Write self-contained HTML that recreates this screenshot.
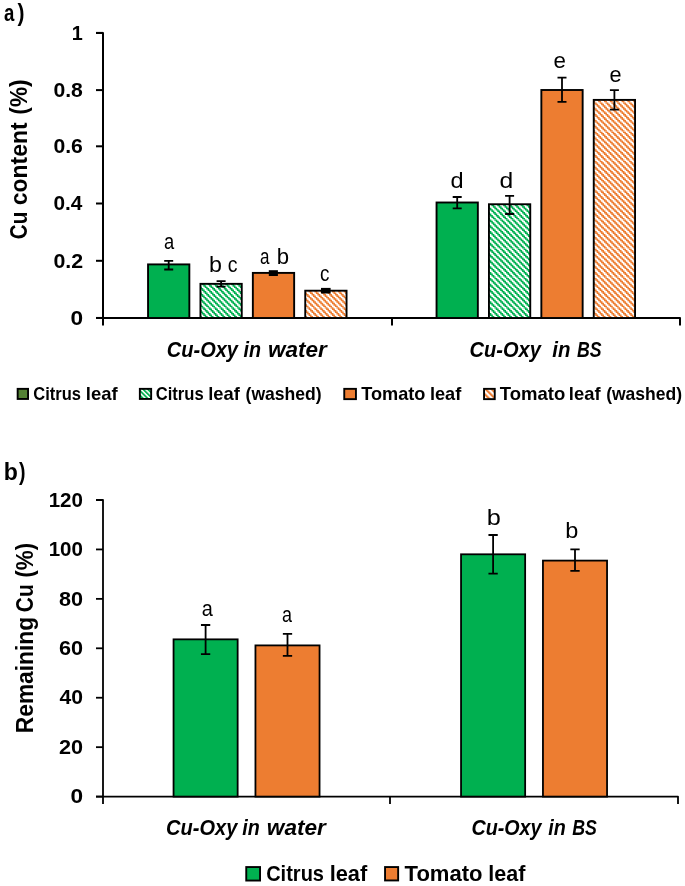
<!DOCTYPE html>
<html><head><meta charset="utf-8"><style>
html,body{margin:0;padding:0;background:#fff;}
svg{display:block;will-change:transform;}
text{font-family:"Liberation Sans", sans-serif;fill:#000;}
</style></head><body>
<svg width="685" height="886" viewBox="0 0 685 886">
<rect width="685" height="886" fill="#fff"/>
<defs>
<pattern id="hgl" patternUnits="userSpaceOnUse" width="3.3" height="3.3" patternTransform="rotate(-45)">
<rect width="3.3" height="3.3" fill="#fff"/><rect width="1.8" height="3.3" fill="#00B050"/></pattern>
<pattern id="hol" patternUnits="userSpaceOnUse" width="4.2" height="4.2" patternTransform="rotate(-45)">
<rect width="4.2" height="4.2" fill="#fff"/><rect width="2.1" height="4.2" fill="#ED7D31"/></pattern>
</defs>
<path d="M96 32.9H103V325.5" fill="none" stroke="#000" stroke-width="2" stroke-linejoin="round"/>
<line x1="96" y1="32.9" x2="103" y2="32.9" stroke="#000" stroke-width="2"/>
<line x1="96" y1="90.1" x2="103" y2="90.1" stroke="#000" stroke-width="2"/>
<line x1="96" y1="146.3" x2="103" y2="146.3" stroke="#000" stroke-width="2"/>
<line x1="96" y1="203.5" x2="103" y2="203.5" stroke="#000" stroke-width="2"/>
<line x1="96" y1="260.8" x2="103" y2="260.8" stroke="#000" stroke-width="2"/>
<line x1="96" y1="317.95" x2="103" y2="317.95" stroke="#000" stroke-width="2"/>
<path d="M96 318H680V325.5" fill="none" stroke="#000" stroke-width="2" stroke-linejoin="round"/>
<line x1="392" y1="318" x2="392" y2="325.5" stroke="#000" stroke-width="2"/>
<text x="71.82" y="39.6" font-size="21" font-weight="bold" font-style="normal" textLength="11.02" lengthAdjust="spacingAndGlyphs" xml:space="preserve">1</text>
<text x="53.44" y="96.8" font-size="21" font-weight="bold" font-style="normal" textLength="29.46" lengthAdjust="spacingAndGlyphs" xml:space="preserve">0.8</text>
<text x="53.44" y="153.0" font-size="21" font-weight="bold" font-style="normal" textLength="29.46" lengthAdjust="spacingAndGlyphs" xml:space="preserve">0.6</text>
<text x="53.46" y="210.2" font-size="21" font-weight="bold" font-style="normal" textLength="28.94" lengthAdjust="spacingAndGlyphs" xml:space="preserve">0.4</text>
<text x="53.44" y="267.5" font-size="21" font-weight="bold" font-style="normal" textLength="29.73" lengthAdjust="spacingAndGlyphs" xml:space="preserve">0.2</text>
<text x="70.59" y="324.65" font-size="21" font-weight="bold" font-style="normal" textLength="12.61" lengthAdjust="spacingAndGlyphs" xml:space="preserve">0</text>
<rect x="148.05" y="264.40" width="41.30" height="53.60" fill="#00B050" stroke="#000" stroke-width="1.9"/>
<clipPath id="hc1"><rect x="200.45" y="283.85" width="41.30" height="34.15"/></clipPath>
<rect x="200.45" y="283.85" width="41.30" height="34.15" fill="#fff"/>
<path clip-path="url(#hc1)" fill="#00B050" d="M194.512 282.262h2.925v1.462h-2.925zM200.362 282.262h2.925v1.462h-2.925zM206.212 282.262h2.925v1.462h-2.925zM212.062 282.262h2.925v1.462h-2.925zM217.912 282.262h2.925v1.462h-2.925zM223.762 282.262h2.925v1.462h-2.925zM229.612 282.262h2.925v1.462h-2.925zM235.462 282.262h2.925v1.462h-2.925zM241.312 282.262h2.925v1.462h-2.925zM247.162 282.262h2.925v1.462h-2.925zM195.975 283.725h2.925v1.462h-2.925zM201.825 283.725h2.925v1.462h-2.925zM207.675 283.725h2.925v1.462h-2.925zM213.525 283.725h2.925v1.462h-2.925zM219.375 283.725h2.925v1.462h-2.925zM225.225 283.725h2.925v1.462h-2.925zM231.075 283.725h2.925v1.462h-2.925zM236.925 283.725h2.925v1.462h-2.925zM242.775 283.725h2.925v1.462h-2.925zM197.438 285.188h2.925v1.462h-2.925zM203.287 285.188h2.925v1.462h-2.925zM209.137 285.188h2.925v1.462h-2.925zM214.987 285.188h2.925v1.462h-2.925zM220.837 285.188h2.925v1.462h-2.925zM226.688 285.188h2.925v1.462h-2.925zM232.537 285.188h2.925v1.462h-2.925zM238.387 285.188h2.925v1.462h-2.925zM244.237 285.188h2.925v1.462h-2.925zM198.900 286.650h2.925v1.462h-2.925zM204.750 286.650h2.925v1.462h-2.925zM210.600 286.650h2.925v1.462h-2.925zM216.450 286.650h2.925v1.462h-2.925zM222.300 286.650h2.925v1.462h-2.925zM228.150 286.650h2.925v1.462h-2.925zM234.000 286.650h2.925v1.462h-2.925zM239.850 286.650h2.925v1.462h-2.925zM245.700 286.650h2.925v1.462h-2.925zM194.512 288.112h2.925v1.462h-2.925zM200.362 288.112h2.925v1.462h-2.925zM206.212 288.112h2.925v1.462h-2.925zM212.062 288.112h2.925v1.462h-2.925zM217.912 288.112h2.925v1.462h-2.925zM223.762 288.112h2.925v1.462h-2.925zM229.612 288.112h2.925v1.462h-2.925zM235.462 288.112h2.925v1.462h-2.925zM241.312 288.112h2.925v1.462h-2.925zM247.162 288.112h2.925v1.462h-2.925zM195.975 289.575h2.925v1.462h-2.925zM201.825 289.575h2.925v1.462h-2.925zM207.675 289.575h2.925v1.462h-2.925zM213.525 289.575h2.925v1.462h-2.925zM219.375 289.575h2.925v1.462h-2.925zM225.225 289.575h2.925v1.462h-2.925zM231.075 289.575h2.925v1.462h-2.925zM236.925 289.575h2.925v1.462h-2.925zM242.775 289.575h2.925v1.462h-2.925zM197.438 291.037h2.925v1.462h-2.925zM203.287 291.037h2.925v1.462h-2.925zM209.137 291.037h2.925v1.462h-2.925zM214.987 291.037h2.925v1.462h-2.925zM220.837 291.037h2.925v1.462h-2.925zM226.688 291.037h2.925v1.462h-2.925zM232.537 291.037h2.925v1.462h-2.925zM238.387 291.037h2.925v1.462h-2.925zM244.237 291.037h2.925v1.462h-2.925zM198.900 292.500h2.925v1.462h-2.925zM204.750 292.500h2.925v1.462h-2.925zM210.600 292.500h2.925v1.462h-2.925zM216.450 292.500h2.925v1.462h-2.925zM222.300 292.500h2.925v1.462h-2.925zM228.150 292.500h2.925v1.462h-2.925zM234.000 292.500h2.925v1.462h-2.925zM239.850 292.500h2.925v1.462h-2.925zM245.700 292.500h2.925v1.462h-2.925zM194.512 293.962h2.925v1.462h-2.925zM200.362 293.962h2.925v1.462h-2.925zM206.212 293.962h2.925v1.462h-2.925zM212.062 293.962h2.925v1.462h-2.925zM217.912 293.962h2.925v1.462h-2.925zM223.762 293.962h2.925v1.462h-2.925zM229.612 293.962h2.925v1.462h-2.925zM235.462 293.962h2.925v1.462h-2.925zM241.312 293.962h2.925v1.462h-2.925zM247.162 293.962h2.925v1.462h-2.925zM195.975 295.425h2.925v1.462h-2.925zM201.825 295.425h2.925v1.462h-2.925zM207.675 295.425h2.925v1.462h-2.925zM213.525 295.425h2.925v1.462h-2.925zM219.375 295.425h2.925v1.462h-2.925zM225.225 295.425h2.925v1.462h-2.925zM231.075 295.425h2.925v1.462h-2.925zM236.925 295.425h2.925v1.462h-2.925zM242.775 295.425h2.925v1.462h-2.925zM197.438 296.887h2.925v1.462h-2.925zM203.287 296.887h2.925v1.462h-2.925zM209.137 296.887h2.925v1.462h-2.925zM214.987 296.887h2.925v1.462h-2.925zM220.837 296.887h2.925v1.462h-2.925zM226.688 296.887h2.925v1.462h-2.925zM232.537 296.887h2.925v1.462h-2.925zM238.387 296.887h2.925v1.462h-2.925zM244.237 296.887h2.925v1.462h-2.925zM198.900 298.350h2.925v1.462h-2.925zM204.750 298.350h2.925v1.462h-2.925zM210.600 298.350h2.925v1.462h-2.925zM216.450 298.350h2.925v1.462h-2.925zM222.300 298.350h2.925v1.462h-2.925zM228.150 298.350h2.925v1.462h-2.925zM234.000 298.350h2.925v1.462h-2.925zM239.850 298.350h2.925v1.462h-2.925zM245.700 298.350h2.925v1.462h-2.925zM194.512 299.812h2.925v1.462h-2.925zM200.362 299.812h2.925v1.462h-2.925zM206.212 299.812h2.925v1.462h-2.925zM212.062 299.812h2.925v1.462h-2.925zM217.912 299.812h2.925v1.462h-2.925zM223.762 299.812h2.925v1.462h-2.925zM229.612 299.812h2.925v1.462h-2.925zM235.462 299.812h2.925v1.462h-2.925zM241.312 299.812h2.925v1.462h-2.925zM247.162 299.812h2.925v1.462h-2.925zM195.975 301.275h2.925v1.462h-2.925zM201.825 301.275h2.925v1.462h-2.925zM207.675 301.275h2.925v1.462h-2.925zM213.525 301.275h2.925v1.462h-2.925zM219.375 301.275h2.925v1.462h-2.925zM225.225 301.275h2.925v1.462h-2.925zM231.075 301.275h2.925v1.462h-2.925zM236.925 301.275h2.925v1.462h-2.925zM242.775 301.275h2.925v1.462h-2.925zM197.438 302.737h2.925v1.462h-2.925zM203.287 302.737h2.925v1.462h-2.925zM209.137 302.737h2.925v1.462h-2.925zM214.987 302.737h2.925v1.462h-2.925zM220.837 302.737h2.925v1.462h-2.925zM226.688 302.737h2.925v1.462h-2.925zM232.537 302.737h2.925v1.462h-2.925zM238.387 302.737h2.925v1.462h-2.925zM244.237 302.737h2.925v1.462h-2.925zM198.900 304.200h2.925v1.462h-2.925zM204.750 304.200h2.925v1.462h-2.925zM210.600 304.200h2.925v1.462h-2.925zM216.450 304.200h2.925v1.462h-2.925zM222.300 304.200h2.925v1.462h-2.925zM228.150 304.200h2.925v1.462h-2.925zM234.000 304.200h2.925v1.462h-2.925zM239.850 304.200h2.925v1.462h-2.925zM245.700 304.200h2.925v1.462h-2.925zM194.512 305.662h2.925v1.462h-2.925zM200.362 305.662h2.925v1.462h-2.925zM206.212 305.662h2.925v1.462h-2.925zM212.062 305.662h2.925v1.462h-2.925zM217.912 305.662h2.925v1.462h-2.925zM223.762 305.662h2.925v1.462h-2.925zM229.612 305.662h2.925v1.462h-2.925zM235.462 305.662h2.925v1.462h-2.925zM241.312 305.662h2.925v1.462h-2.925zM247.162 305.662h2.925v1.462h-2.925zM195.975 307.125h2.925v1.462h-2.925zM201.825 307.125h2.925v1.462h-2.925zM207.675 307.125h2.925v1.462h-2.925zM213.525 307.125h2.925v1.462h-2.925zM219.375 307.125h2.925v1.462h-2.925zM225.225 307.125h2.925v1.462h-2.925zM231.075 307.125h2.925v1.462h-2.925zM236.925 307.125h2.925v1.462h-2.925zM242.775 307.125h2.925v1.462h-2.925zM197.438 308.587h2.925v1.462h-2.925zM203.287 308.587h2.925v1.462h-2.925zM209.137 308.587h2.925v1.462h-2.925zM214.987 308.587h2.925v1.462h-2.925zM220.837 308.587h2.925v1.462h-2.925zM226.688 308.587h2.925v1.462h-2.925zM232.537 308.587h2.925v1.462h-2.925zM238.387 308.587h2.925v1.462h-2.925zM244.237 308.587h2.925v1.462h-2.925zM198.900 310.050h2.925v1.462h-2.925zM204.750 310.050h2.925v1.462h-2.925zM210.600 310.050h2.925v1.462h-2.925zM216.450 310.050h2.925v1.462h-2.925zM222.300 310.050h2.925v1.462h-2.925zM228.150 310.050h2.925v1.462h-2.925zM234.000 310.050h2.925v1.462h-2.925zM239.850 310.050h2.925v1.462h-2.925zM245.700 310.050h2.925v1.462h-2.925zM194.512 311.512h2.925v1.462h-2.925zM200.362 311.512h2.925v1.462h-2.925zM206.212 311.512h2.925v1.462h-2.925zM212.062 311.512h2.925v1.462h-2.925zM217.912 311.512h2.925v1.462h-2.925zM223.762 311.512h2.925v1.462h-2.925zM229.612 311.512h2.925v1.462h-2.925zM235.462 311.512h2.925v1.462h-2.925zM241.312 311.512h2.925v1.462h-2.925zM247.162 311.512h2.925v1.462h-2.925zM195.975 312.975h2.925v1.462h-2.925zM201.825 312.975h2.925v1.462h-2.925zM207.675 312.975h2.925v1.462h-2.925zM213.525 312.975h2.925v1.462h-2.925zM219.375 312.975h2.925v1.462h-2.925zM225.225 312.975h2.925v1.462h-2.925zM231.075 312.975h2.925v1.462h-2.925zM236.925 312.975h2.925v1.462h-2.925zM242.775 312.975h2.925v1.462h-2.925zM197.438 314.438h2.925v1.462h-2.925zM203.287 314.438h2.925v1.462h-2.925zM209.137 314.438h2.925v1.462h-2.925zM214.987 314.438h2.925v1.462h-2.925zM220.837 314.438h2.925v1.462h-2.925zM226.688 314.438h2.925v1.462h-2.925zM232.537 314.438h2.925v1.462h-2.925zM238.387 314.438h2.925v1.462h-2.925zM244.237 314.438h2.925v1.462h-2.925zM198.900 315.900h2.925v1.462h-2.925zM204.750 315.900h2.925v1.462h-2.925zM210.600 315.900h2.925v1.462h-2.925zM216.450 315.900h2.925v1.462h-2.925zM222.300 315.900h2.925v1.462h-2.925zM228.150 315.900h2.925v1.462h-2.925zM234.000 315.900h2.925v1.462h-2.925zM239.850 315.900h2.925v1.462h-2.925zM245.700 315.900h2.925v1.462h-2.925zM194.512 317.362h2.925v1.462h-2.925zM200.362 317.362h2.925v1.462h-2.925zM206.212 317.362h2.925v1.462h-2.925zM212.062 317.362h2.925v1.462h-2.925zM217.912 317.362h2.925v1.462h-2.925zM223.762 317.362h2.925v1.462h-2.925zM229.612 317.362h2.925v1.462h-2.925zM235.462 317.362h2.925v1.462h-2.925zM241.312 317.362h2.925v1.462h-2.925zM247.162 317.362h2.925v1.462h-2.925zM195.975 318.825h2.925v1.462h-2.925zM201.825 318.825h2.925v1.462h-2.925zM207.675 318.825h2.925v1.462h-2.925zM213.525 318.825h2.925v1.462h-2.925zM219.375 318.825h2.925v1.462h-2.925zM225.225 318.825h2.925v1.462h-2.925zM231.075 318.825h2.925v1.462h-2.925zM236.925 318.825h2.925v1.462h-2.925zM242.775 318.825h2.925v1.462h-2.925z"/>
<rect x="200.45" y="283.85" width="41.30" height="34.15" fill="none" stroke="#000" stroke-width="1.9"/>
<rect x="252.85" y="272.90" width="41.30" height="45.10" fill="#ED7D31" stroke="#000" stroke-width="1.9"/>
<clipPath id="hc2"><rect x="305.25" y="290.70" width="41.30" height="27.30"/></clipPath>
<rect x="305.25" y="290.70" width="41.30" height="27.30" fill="#fff"/>
<path clip-path="url(#hc2)" fill="#ED7D31" d="M299.812 288.112h2.925v1.462h-2.925zM305.662 288.112h2.925v1.462h-2.925zM311.512 288.112h2.925v1.462h-2.925zM317.362 288.112h2.925v1.462h-2.925zM323.212 288.112h2.925v1.462h-2.925zM329.062 288.112h2.925v1.462h-2.925zM334.912 288.112h2.925v1.462h-2.925zM340.762 288.112h2.925v1.462h-2.925zM346.612 288.112h2.925v1.462h-2.925zM301.275 289.575h2.925v1.462h-2.925zM307.125 289.575h2.925v1.462h-2.925zM312.975 289.575h2.925v1.462h-2.925zM318.825 289.575h2.925v1.462h-2.925zM324.675 289.575h2.925v1.462h-2.925zM330.525 289.575h2.925v1.462h-2.925zM336.375 289.575h2.925v1.462h-2.925zM342.225 289.575h2.925v1.462h-2.925zM348.075 289.575h2.925v1.462h-2.925zM302.737 291.037h2.925v1.462h-2.925zM308.587 291.037h2.925v1.462h-2.925zM314.438 291.037h2.925v1.462h-2.925zM320.287 291.037h2.925v1.462h-2.925zM326.137 291.037h2.925v1.462h-2.925zM331.987 291.037h2.925v1.462h-2.925zM337.837 291.037h2.925v1.462h-2.925zM343.688 291.037h2.925v1.462h-2.925zM349.537 291.037h2.925v1.462h-2.925zM298.350 292.500h2.925v1.462h-2.925zM304.200 292.500h2.925v1.462h-2.925zM310.050 292.500h2.925v1.462h-2.925zM315.900 292.500h2.925v1.462h-2.925zM321.750 292.500h2.925v1.462h-2.925zM327.600 292.500h2.925v1.462h-2.925zM333.450 292.500h2.925v1.462h-2.925zM339.300 292.500h2.925v1.462h-2.925zM345.150 292.500h2.925v1.462h-2.925zM351.000 292.500h2.925v1.462h-2.925zM299.812 293.962h2.925v1.462h-2.925zM305.662 293.962h2.925v1.462h-2.925zM311.512 293.962h2.925v1.462h-2.925zM317.362 293.962h2.925v1.462h-2.925zM323.212 293.962h2.925v1.462h-2.925zM329.062 293.962h2.925v1.462h-2.925zM334.912 293.962h2.925v1.462h-2.925zM340.762 293.962h2.925v1.462h-2.925zM346.612 293.962h2.925v1.462h-2.925zM301.275 295.425h2.925v1.462h-2.925zM307.125 295.425h2.925v1.462h-2.925zM312.975 295.425h2.925v1.462h-2.925zM318.825 295.425h2.925v1.462h-2.925zM324.675 295.425h2.925v1.462h-2.925zM330.525 295.425h2.925v1.462h-2.925zM336.375 295.425h2.925v1.462h-2.925zM342.225 295.425h2.925v1.462h-2.925zM348.075 295.425h2.925v1.462h-2.925zM302.737 296.887h2.925v1.462h-2.925zM308.587 296.887h2.925v1.462h-2.925zM314.438 296.887h2.925v1.462h-2.925zM320.287 296.887h2.925v1.462h-2.925zM326.137 296.887h2.925v1.462h-2.925zM331.987 296.887h2.925v1.462h-2.925zM337.837 296.887h2.925v1.462h-2.925zM343.688 296.887h2.925v1.462h-2.925zM349.537 296.887h2.925v1.462h-2.925zM298.350 298.350h2.925v1.462h-2.925zM304.200 298.350h2.925v1.462h-2.925zM310.050 298.350h2.925v1.462h-2.925zM315.900 298.350h2.925v1.462h-2.925zM321.750 298.350h2.925v1.462h-2.925zM327.600 298.350h2.925v1.462h-2.925zM333.450 298.350h2.925v1.462h-2.925zM339.300 298.350h2.925v1.462h-2.925zM345.150 298.350h2.925v1.462h-2.925zM351.000 298.350h2.925v1.462h-2.925zM299.812 299.812h2.925v1.462h-2.925zM305.662 299.812h2.925v1.462h-2.925zM311.512 299.812h2.925v1.462h-2.925zM317.362 299.812h2.925v1.462h-2.925zM323.212 299.812h2.925v1.462h-2.925zM329.062 299.812h2.925v1.462h-2.925zM334.912 299.812h2.925v1.462h-2.925zM340.762 299.812h2.925v1.462h-2.925zM346.612 299.812h2.925v1.462h-2.925zM301.275 301.275h2.925v1.462h-2.925zM307.125 301.275h2.925v1.462h-2.925zM312.975 301.275h2.925v1.462h-2.925zM318.825 301.275h2.925v1.462h-2.925zM324.675 301.275h2.925v1.462h-2.925zM330.525 301.275h2.925v1.462h-2.925zM336.375 301.275h2.925v1.462h-2.925zM342.225 301.275h2.925v1.462h-2.925zM348.075 301.275h2.925v1.462h-2.925zM302.737 302.737h2.925v1.462h-2.925zM308.587 302.737h2.925v1.462h-2.925zM314.438 302.737h2.925v1.462h-2.925zM320.287 302.737h2.925v1.462h-2.925zM326.137 302.737h2.925v1.462h-2.925zM331.987 302.737h2.925v1.462h-2.925zM337.837 302.737h2.925v1.462h-2.925zM343.688 302.737h2.925v1.462h-2.925zM349.537 302.737h2.925v1.462h-2.925zM298.350 304.200h2.925v1.462h-2.925zM304.200 304.200h2.925v1.462h-2.925zM310.050 304.200h2.925v1.462h-2.925zM315.900 304.200h2.925v1.462h-2.925zM321.750 304.200h2.925v1.462h-2.925zM327.600 304.200h2.925v1.462h-2.925zM333.450 304.200h2.925v1.462h-2.925zM339.300 304.200h2.925v1.462h-2.925zM345.150 304.200h2.925v1.462h-2.925zM351.000 304.200h2.925v1.462h-2.925zM299.812 305.662h2.925v1.462h-2.925zM305.662 305.662h2.925v1.462h-2.925zM311.512 305.662h2.925v1.462h-2.925zM317.362 305.662h2.925v1.462h-2.925zM323.212 305.662h2.925v1.462h-2.925zM329.062 305.662h2.925v1.462h-2.925zM334.912 305.662h2.925v1.462h-2.925zM340.762 305.662h2.925v1.462h-2.925zM346.612 305.662h2.925v1.462h-2.925zM301.275 307.125h2.925v1.462h-2.925zM307.125 307.125h2.925v1.462h-2.925zM312.975 307.125h2.925v1.462h-2.925zM318.825 307.125h2.925v1.462h-2.925zM324.675 307.125h2.925v1.462h-2.925zM330.525 307.125h2.925v1.462h-2.925zM336.375 307.125h2.925v1.462h-2.925zM342.225 307.125h2.925v1.462h-2.925zM348.075 307.125h2.925v1.462h-2.925zM302.737 308.587h2.925v1.462h-2.925zM308.587 308.587h2.925v1.462h-2.925zM314.438 308.587h2.925v1.462h-2.925zM320.287 308.587h2.925v1.462h-2.925zM326.137 308.587h2.925v1.462h-2.925zM331.987 308.587h2.925v1.462h-2.925zM337.837 308.587h2.925v1.462h-2.925zM343.688 308.587h2.925v1.462h-2.925zM349.537 308.587h2.925v1.462h-2.925zM298.350 310.050h2.925v1.462h-2.925zM304.200 310.050h2.925v1.462h-2.925zM310.050 310.050h2.925v1.462h-2.925zM315.900 310.050h2.925v1.462h-2.925zM321.750 310.050h2.925v1.462h-2.925zM327.600 310.050h2.925v1.462h-2.925zM333.450 310.050h2.925v1.462h-2.925zM339.300 310.050h2.925v1.462h-2.925zM345.150 310.050h2.925v1.462h-2.925zM351.000 310.050h2.925v1.462h-2.925zM299.812 311.512h2.925v1.462h-2.925zM305.662 311.512h2.925v1.462h-2.925zM311.512 311.512h2.925v1.462h-2.925zM317.362 311.512h2.925v1.462h-2.925zM323.212 311.512h2.925v1.462h-2.925zM329.062 311.512h2.925v1.462h-2.925zM334.912 311.512h2.925v1.462h-2.925zM340.762 311.512h2.925v1.462h-2.925zM346.612 311.512h2.925v1.462h-2.925zM301.275 312.975h2.925v1.462h-2.925zM307.125 312.975h2.925v1.462h-2.925zM312.975 312.975h2.925v1.462h-2.925zM318.825 312.975h2.925v1.462h-2.925zM324.675 312.975h2.925v1.462h-2.925zM330.525 312.975h2.925v1.462h-2.925zM336.375 312.975h2.925v1.462h-2.925zM342.225 312.975h2.925v1.462h-2.925zM348.075 312.975h2.925v1.462h-2.925zM302.737 314.438h2.925v1.462h-2.925zM308.587 314.438h2.925v1.462h-2.925zM314.438 314.438h2.925v1.462h-2.925zM320.287 314.438h2.925v1.462h-2.925zM326.137 314.438h2.925v1.462h-2.925zM331.987 314.438h2.925v1.462h-2.925zM337.837 314.438h2.925v1.462h-2.925zM343.688 314.438h2.925v1.462h-2.925zM349.537 314.438h2.925v1.462h-2.925zM298.350 315.900h2.925v1.462h-2.925zM304.200 315.900h2.925v1.462h-2.925zM310.050 315.900h2.925v1.462h-2.925zM315.900 315.900h2.925v1.462h-2.925zM321.750 315.900h2.925v1.462h-2.925zM327.600 315.900h2.925v1.462h-2.925zM333.450 315.900h2.925v1.462h-2.925zM339.300 315.900h2.925v1.462h-2.925zM345.150 315.900h2.925v1.462h-2.925zM351.000 315.900h2.925v1.462h-2.925zM299.812 317.362h2.925v1.462h-2.925zM305.662 317.362h2.925v1.462h-2.925zM311.512 317.362h2.925v1.462h-2.925zM317.362 317.362h2.925v1.462h-2.925zM323.212 317.362h2.925v1.462h-2.925zM329.062 317.362h2.925v1.462h-2.925zM334.912 317.362h2.925v1.462h-2.925zM340.762 317.362h2.925v1.462h-2.925zM346.612 317.362h2.925v1.462h-2.925zM301.275 318.825h2.925v1.462h-2.925zM307.125 318.825h2.925v1.462h-2.925zM312.975 318.825h2.925v1.462h-2.925zM318.825 318.825h2.925v1.462h-2.925zM324.675 318.825h2.925v1.462h-2.925zM330.525 318.825h2.925v1.462h-2.925zM336.375 318.825h2.925v1.462h-2.925zM342.225 318.825h2.925v1.462h-2.925zM348.075 318.825h2.925v1.462h-2.925z"/>
<rect x="305.25" y="290.70" width="41.30" height="27.30" fill="none" stroke="#000" stroke-width="1.9"/>
<rect x="436.55" y="202.50" width="41.30" height="115.50" fill="#00B050" stroke="#000" stroke-width="1.9"/>
<clipPath id="hc3"><rect x="488.95" y="204.25" width="41.30" height="113.75"/></clipPath>
<rect x="488.95" y="204.25" width="41.30" height="113.75" fill="#fff"/>
<path clip-path="url(#hc3)" fill="#00B050" d="M482.625 201.825h2.925v1.462h-2.925zM488.475 201.825h2.925v1.462h-2.925zM494.325 201.825h2.925v1.462h-2.925zM500.175 201.825h2.925v1.462h-2.925zM506.025 201.825h2.925v1.462h-2.925zM511.875 201.825h2.925v1.462h-2.925zM517.725 201.825h2.925v1.462h-2.925zM523.575 201.825h2.925v1.462h-2.925zM529.425 201.825h2.925v1.462h-2.925zM535.275 201.825h2.925v1.462h-2.925zM484.087 203.287h2.925v1.462h-2.925zM489.937 203.287h2.925v1.462h-2.925zM495.787 203.287h2.925v1.462h-2.925zM501.637 203.287h2.925v1.462h-2.925zM507.487 203.287h2.925v1.462h-2.925zM513.337 203.287h2.925v1.462h-2.925zM519.188 203.287h2.925v1.462h-2.925zM525.038 203.287h2.925v1.462h-2.925zM530.887 203.287h2.925v1.462h-2.925zM485.550 204.750h2.925v1.462h-2.925zM491.400 204.750h2.925v1.462h-2.925zM497.250 204.750h2.925v1.462h-2.925zM503.100 204.750h2.925v1.462h-2.925zM508.950 204.750h2.925v1.462h-2.925zM514.800 204.750h2.925v1.462h-2.925zM520.650 204.750h2.925v1.462h-2.925zM526.500 204.750h2.925v1.462h-2.925zM532.350 204.750h2.925v1.462h-2.925zM487.012 206.212h2.925v1.462h-2.925zM492.862 206.212h2.925v1.462h-2.925zM498.712 206.212h2.925v1.462h-2.925zM504.562 206.212h2.925v1.462h-2.925zM510.412 206.212h2.925v1.462h-2.925zM516.262 206.212h2.925v1.462h-2.925zM522.112 206.212h2.925v1.462h-2.925zM527.962 206.212h2.925v1.462h-2.925zM533.812 206.212h2.925v1.462h-2.925zM482.625 207.675h2.925v1.462h-2.925zM488.475 207.675h2.925v1.462h-2.925zM494.325 207.675h2.925v1.462h-2.925zM500.175 207.675h2.925v1.462h-2.925zM506.025 207.675h2.925v1.462h-2.925zM511.875 207.675h2.925v1.462h-2.925zM517.725 207.675h2.925v1.462h-2.925zM523.575 207.675h2.925v1.462h-2.925zM529.425 207.675h2.925v1.462h-2.925zM535.275 207.675h2.925v1.462h-2.925zM484.087 209.137h2.925v1.462h-2.925zM489.937 209.137h2.925v1.462h-2.925zM495.787 209.137h2.925v1.462h-2.925zM501.637 209.137h2.925v1.462h-2.925zM507.487 209.137h2.925v1.462h-2.925zM513.337 209.137h2.925v1.462h-2.925zM519.188 209.137h2.925v1.462h-2.925zM525.038 209.137h2.925v1.462h-2.925zM530.887 209.137h2.925v1.462h-2.925zM485.550 210.600h2.925v1.462h-2.925zM491.400 210.600h2.925v1.462h-2.925zM497.250 210.600h2.925v1.462h-2.925zM503.100 210.600h2.925v1.462h-2.925zM508.950 210.600h2.925v1.462h-2.925zM514.800 210.600h2.925v1.462h-2.925zM520.650 210.600h2.925v1.462h-2.925zM526.500 210.600h2.925v1.462h-2.925zM532.350 210.600h2.925v1.462h-2.925zM487.012 212.062h2.925v1.462h-2.925zM492.862 212.062h2.925v1.462h-2.925zM498.712 212.062h2.925v1.462h-2.925zM504.562 212.062h2.925v1.462h-2.925zM510.412 212.062h2.925v1.462h-2.925zM516.262 212.062h2.925v1.462h-2.925zM522.112 212.062h2.925v1.462h-2.925zM527.962 212.062h2.925v1.462h-2.925zM533.812 212.062h2.925v1.462h-2.925zM482.625 213.525h2.925v1.462h-2.925zM488.475 213.525h2.925v1.462h-2.925zM494.325 213.525h2.925v1.462h-2.925zM500.175 213.525h2.925v1.462h-2.925zM506.025 213.525h2.925v1.462h-2.925zM511.875 213.525h2.925v1.462h-2.925zM517.725 213.525h2.925v1.462h-2.925zM523.575 213.525h2.925v1.462h-2.925zM529.425 213.525h2.925v1.462h-2.925zM535.275 213.525h2.925v1.462h-2.925zM484.087 214.987h2.925v1.462h-2.925zM489.937 214.987h2.925v1.462h-2.925zM495.787 214.987h2.925v1.462h-2.925zM501.637 214.987h2.925v1.462h-2.925zM507.487 214.987h2.925v1.462h-2.925zM513.337 214.987h2.925v1.462h-2.925zM519.188 214.987h2.925v1.462h-2.925zM525.038 214.987h2.925v1.462h-2.925zM530.887 214.987h2.925v1.462h-2.925zM485.550 216.450h2.925v1.462h-2.925zM491.400 216.450h2.925v1.462h-2.925zM497.250 216.450h2.925v1.462h-2.925zM503.100 216.450h2.925v1.462h-2.925zM508.950 216.450h2.925v1.462h-2.925zM514.800 216.450h2.925v1.462h-2.925zM520.650 216.450h2.925v1.462h-2.925zM526.500 216.450h2.925v1.462h-2.925zM532.350 216.450h2.925v1.462h-2.925zM487.012 217.912h2.925v1.462h-2.925zM492.862 217.912h2.925v1.462h-2.925zM498.712 217.912h2.925v1.462h-2.925zM504.562 217.912h2.925v1.462h-2.925zM510.412 217.912h2.925v1.462h-2.925zM516.262 217.912h2.925v1.462h-2.925zM522.112 217.912h2.925v1.462h-2.925zM527.962 217.912h2.925v1.462h-2.925zM533.812 217.912h2.925v1.462h-2.925zM482.625 219.375h2.925v1.462h-2.925zM488.475 219.375h2.925v1.462h-2.925zM494.325 219.375h2.925v1.462h-2.925zM500.175 219.375h2.925v1.462h-2.925zM506.025 219.375h2.925v1.462h-2.925zM511.875 219.375h2.925v1.462h-2.925zM517.725 219.375h2.925v1.462h-2.925zM523.575 219.375h2.925v1.462h-2.925zM529.425 219.375h2.925v1.462h-2.925zM535.275 219.375h2.925v1.462h-2.925zM484.087 220.837h2.925v1.462h-2.925zM489.937 220.837h2.925v1.462h-2.925zM495.787 220.837h2.925v1.462h-2.925zM501.637 220.837h2.925v1.462h-2.925zM507.487 220.837h2.925v1.462h-2.925zM513.337 220.837h2.925v1.462h-2.925zM519.188 220.837h2.925v1.462h-2.925zM525.038 220.837h2.925v1.462h-2.925zM530.887 220.837h2.925v1.462h-2.925zM485.550 222.300h2.925v1.462h-2.925zM491.400 222.300h2.925v1.462h-2.925zM497.250 222.300h2.925v1.462h-2.925zM503.100 222.300h2.925v1.462h-2.925zM508.950 222.300h2.925v1.462h-2.925zM514.800 222.300h2.925v1.462h-2.925zM520.650 222.300h2.925v1.462h-2.925zM526.500 222.300h2.925v1.462h-2.925zM532.350 222.300h2.925v1.462h-2.925zM487.012 223.762h2.925v1.462h-2.925zM492.862 223.762h2.925v1.462h-2.925zM498.712 223.762h2.925v1.462h-2.925zM504.562 223.762h2.925v1.462h-2.925zM510.412 223.762h2.925v1.462h-2.925zM516.262 223.762h2.925v1.462h-2.925zM522.112 223.762h2.925v1.462h-2.925zM527.962 223.762h2.925v1.462h-2.925zM533.812 223.762h2.925v1.462h-2.925zM482.625 225.225h2.925v1.462h-2.925zM488.475 225.225h2.925v1.462h-2.925zM494.325 225.225h2.925v1.462h-2.925zM500.175 225.225h2.925v1.462h-2.925zM506.025 225.225h2.925v1.462h-2.925zM511.875 225.225h2.925v1.462h-2.925zM517.725 225.225h2.925v1.462h-2.925zM523.575 225.225h2.925v1.462h-2.925zM529.425 225.225h2.925v1.462h-2.925zM535.275 225.225h2.925v1.462h-2.925zM484.087 226.688h2.925v1.462h-2.925zM489.937 226.688h2.925v1.462h-2.925zM495.787 226.688h2.925v1.462h-2.925zM501.637 226.688h2.925v1.462h-2.925zM507.487 226.688h2.925v1.462h-2.925zM513.337 226.688h2.925v1.462h-2.925zM519.188 226.688h2.925v1.462h-2.925zM525.038 226.688h2.925v1.462h-2.925zM530.887 226.688h2.925v1.462h-2.925zM485.550 228.150h2.925v1.462h-2.925zM491.400 228.150h2.925v1.462h-2.925zM497.250 228.150h2.925v1.462h-2.925zM503.100 228.150h2.925v1.462h-2.925zM508.950 228.150h2.925v1.462h-2.925zM514.800 228.150h2.925v1.462h-2.925zM520.650 228.150h2.925v1.462h-2.925zM526.500 228.150h2.925v1.462h-2.925zM532.350 228.150h2.925v1.462h-2.925zM487.012 229.612h2.925v1.462h-2.925zM492.862 229.612h2.925v1.462h-2.925zM498.712 229.612h2.925v1.462h-2.925zM504.562 229.612h2.925v1.462h-2.925zM510.412 229.612h2.925v1.462h-2.925zM516.262 229.612h2.925v1.462h-2.925zM522.112 229.612h2.925v1.462h-2.925zM527.962 229.612h2.925v1.462h-2.925zM533.812 229.612h2.925v1.462h-2.925zM482.625 231.075h2.925v1.462h-2.925zM488.475 231.075h2.925v1.462h-2.925zM494.325 231.075h2.925v1.462h-2.925zM500.175 231.075h2.925v1.462h-2.925zM506.025 231.075h2.925v1.462h-2.925zM511.875 231.075h2.925v1.462h-2.925zM517.725 231.075h2.925v1.462h-2.925zM523.575 231.075h2.925v1.462h-2.925zM529.425 231.075h2.925v1.462h-2.925zM535.275 231.075h2.925v1.462h-2.925zM484.087 232.537h2.925v1.462h-2.925zM489.937 232.537h2.925v1.462h-2.925zM495.787 232.537h2.925v1.462h-2.925zM501.637 232.537h2.925v1.462h-2.925zM507.487 232.537h2.925v1.462h-2.925zM513.337 232.537h2.925v1.462h-2.925zM519.188 232.537h2.925v1.462h-2.925zM525.038 232.537h2.925v1.462h-2.925zM530.887 232.537h2.925v1.462h-2.925zM485.550 234.000h2.925v1.462h-2.925zM491.400 234.000h2.925v1.462h-2.925zM497.250 234.000h2.925v1.462h-2.925zM503.100 234.000h2.925v1.462h-2.925zM508.950 234.000h2.925v1.462h-2.925zM514.800 234.000h2.925v1.462h-2.925zM520.650 234.000h2.925v1.462h-2.925zM526.500 234.000h2.925v1.462h-2.925zM532.350 234.000h2.925v1.462h-2.925zM487.012 235.462h2.925v1.462h-2.925zM492.862 235.462h2.925v1.462h-2.925zM498.712 235.462h2.925v1.462h-2.925zM504.562 235.462h2.925v1.462h-2.925zM510.412 235.462h2.925v1.462h-2.925zM516.262 235.462h2.925v1.462h-2.925zM522.112 235.462h2.925v1.462h-2.925zM527.962 235.462h2.925v1.462h-2.925zM533.812 235.462h2.925v1.462h-2.925zM482.625 236.925h2.925v1.462h-2.925zM488.475 236.925h2.925v1.462h-2.925zM494.325 236.925h2.925v1.462h-2.925zM500.175 236.925h2.925v1.462h-2.925zM506.025 236.925h2.925v1.462h-2.925zM511.875 236.925h2.925v1.462h-2.925zM517.725 236.925h2.925v1.462h-2.925zM523.575 236.925h2.925v1.462h-2.925zM529.425 236.925h2.925v1.462h-2.925zM535.275 236.925h2.925v1.462h-2.925zM484.087 238.387h2.925v1.462h-2.925zM489.937 238.387h2.925v1.462h-2.925zM495.787 238.387h2.925v1.462h-2.925zM501.637 238.387h2.925v1.462h-2.925zM507.487 238.387h2.925v1.462h-2.925zM513.337 238.387h2.925v1.462h-2.925zM519.188 238.387h2.925v1.462h-2.925zM525.038 238.387h2.925v1.462h-2.925zM530.887 238.387h2.925v1.462h-2.925zM485.550 239.850h2.925v1.462h-2.925zM491.400 239.850h2.925v1.462h-2.925zM497.250 239.850h2.925v1.462h-2.925zM503.100 239.850h2.925v1.462h-2.925zM508.950 239.850h2.925v1.462h-2.925zM514.800 239.850h2.925v1.462h-2.925zM520.650 239.850h2.925v1.462h-2.925zM526.500 239.850h2.925v1.462h-2.925zM532.350 239.850h2.925v1.462h-2.925zM487.012 241.312h2.925v1.462h-2.925zM492.862 241.312h2.925v1.462h-2.925zM498.712 241.312h2.925v1.462h-2.925zM504.562 241.312h2.925v1.462h-2.925zM510.412 241.312h2.925v1.462h-2.925zM516.262 241.312h2.925v1.462h-2.925zM522.112 241.312h2.925v1.462h-2.925zM527.962 241.312h2.925v1.462h-2.925zM533.812 241.312h2.925v1.462h-2.925zM482.625 242.775h2.925v1.462h-2.925zM488.475 242.775h2.925v1.462h-2.925zM494.325 242.775h2.925v1.462h-2.925zM500.175 242.775h2.925v1.462h-2.925zM506.025 242.775h2.925v1.462h-2.925zM511.875 242.775h2.925v1.462h-2.925zM517.725 242.775h2.925v1.462h-2.925zM523.575 242.775h2.925v1.462h-2.925zM529.425 242.775h2.925v1.462h-2.925zM535.275 242.775h2.925v1.462h-2.925zM484.087 244.237h2.925v1.462h-2.925zM489.937 244.237h2.925v1.462h-2.925zM495.787 244.237h2.925v1.462h-2.925zM501.637 244.237h2.925v1.462h-2.925zM507.487 244.237h2.925v1.462h-2.925zM513.337 244.237h2.925v1.462h-2.925zM519.188 244.237h2.925v1.462h-2.925zM525.038 244.237h2.925v1.462h-2.925zM530.887 244.237h2.925v1.462h-2.925zM485.550 245.700h2.925v1.462h-2.925zM491.400 245.700h2.925v1.462h-2.925zM497.250 245.700h2.925v1.462h-2.925zM503.100 245.700h2.925v1.462h-2.925zM508.950 245.700h2.925v1.462h-2.925zM514.800 245.700h2.925v1.462h-2.925zM520.650 245.700h2.925v1.462h-2.925zM526.500 245.700h2.925v1.462h-2.925zM532.350 245.700h2.925v1.462h-2.925zM487.012 247.162h2.925v1.462h-2.925zM492.862 247.162h2.925v1.462h-2.925zM498.712 247.162h2.925v1.462h-2.925zM504.562 247.162h2.925v1.462h-2.925zM510.412 247.162h2.925v1.462h-2.925zM516.262 247.162h2.925v1.462h-2.925zM522.112 247.162h2.925v1.462h-2.925zM527.962 247.162h2.925v1.462h-2.925zM533.812 247.162h2.925v1.462h-2.925zM482.625 248.625h2.925v1.462h-2.925zM488.475 248.625h2.925v1.462h-2.925zM494.325 248.625h2.925v1.462h-2.925zM500.175 248.625h2.925v1.462h-2.925zM506.025 248.625h2.925v1.462h-2.925zM511.875 248.625h2.925v1.462h-2.925zM517.725 248.625h2.925v1.462h-2.925zM523.575 248.625h2.925v1.462h-2.925zM529.425 248.625h2.925v1.462h-2.925zM535.275 248.625h2.925v1.462h-2.925zM484.087 250.087h2.925v1.462h-2.925zM489.937 250.087h2.925v1.462h-2.925zM495.787 250.087h2.925v1.462h-2.925zM501.637 250.087h2.925v1.462h-2.925zM507.487 250.087h2.925v1.462h-2.925zM513.337 250.087h2.925v1.462h-2.925zM519.188 250.087h2.925v1.462h-2.925zM525.038 250.087h2.925v1.462h-2.925zM530.887 250.087h2.925v1.462h-2.925zM485.550 251.550h2.925v1.462h-2.925zM491.400 251.550h2.925v1.462h-2.925zM497.250 251.550h2.925v1.462h-2.925zM503.100 251.550h2.925v1.462h-2.925zM508.950 251.550h2.925v1.462h-2.925zM514.800 251.550h2.925v1.462h-2.925zM520.650 251.550h2.925v1.462h-2.925zM526.500 251.550h2.925v1.462h-2.925zM532.350 251.550h2.925v1.462h-2.925zM487.012 253.012h2.925v1.462h-2.925zM492.862 253.012h2.925v1.462h-2.925zM498.712 253.012h2.925v1.462h-2.925zM504.562 253.012h2.925v1.462h-2.925zM510.412 253.012h2.925v1.462h-2.925zM516.262 253.012h2.925v1.462h-2.925zM522.112 253.012h2.925v1.462h-2.925zM527.962 253.012h2.925v1.462h-2.925zM533.812 253.012h2.925v1.462h-2.925zM482.625 254.475h2.925v1.462h-2.925zM488.475 254.475h2.925v1.462h-2.925zM494.325 254.475h2.925v1.462h-2.925zM500.175 254.475h2.925v1.462h-2.925zM506.025 254.475h2.925v1.462h-2.925zM511.875 254.475h2.925v1.462h-2.925zM517.725 254.475h2.925v1.462h-2.925zM523.575 254.475h2.925v1.462h-2.925zM529.425 254.475h2.925v1.462h-2.925zM535.275 254.475h2.925v1.462h-2.925zM484.087 255.937h2.925v1.462h-2.925zM489.937 255.937h2.925v1.462h-2.925zM495.787 255.937h2.925v1.462h-2.925zM501.637 255.937h2.925v1.462h-2.925zM507.487 255.937h2.925v1.462h-2.925zM513.337 255.937h2.925v1.462h-2.925zM519.188 255.937h2.925v1.462h-2.925zM525.038 255.937h2.925v1.462h-2.925zM530.887 255.937h2.925v1.462h-2.925zM485.550 257.400h2.925v1.462h-2.925zM491.400 257.400h2.925v1.462h-2.925zM497.250 257.400h2.925v1.462h-2.925zM503.100 257.400h2.925v1.462h-2.925zM508.950 257.400h2.925v1.462h-2.925zM514.800 257.400h2.925v1.462h-2.925zM520.650 257.400h2.925v1.462h-2.925zM526.500 257.400h2.925v1.462h-2.925zM532.350 257.400h2.925v1.462h-2.925zM487.012 258.863h2.925v1.462h-2.925zM492.862 258.863h2.925v1.462h-2.925zM498.712 258.863h2.925v1.462h-2.925zM504.562 258.863h2.925v1.462h-2.925zM510.412 258.863h2.925v1.462h-2.925zM516.262 258.863h2.925v1.462h-2.925zM522.112 258.863h2.925v1.462h-2.925zM527.962 258.863h2.925v1.462h-2.925zM533.812 258.863h2.925v1.462h-2.925zM482.625 260.325h2.925v1.462h-2.925zM488.475 260.325h2.925v1.462h-2.925zM494.325 260.325h2.925v1.462h-2.925zM500.175 260.325h2.925v1.462h-2.925zM506.025 260.325h2.925v1.462h-2.925zM511.875 260.325h2.925v1.462h-2.925zM517.725 260.325h2.925v1.462h-2.925zM523.575 260.325h2.925v1.462h-2.925zM529.425 260.325h2.925v1.462h-2.925zM535.275 260.325h2.925v1.462h-2.925zM484.087 261.787h2.925v1.462h-2.925zM489.937 261.787h2.925v1.462h-2.925zM495.787 261.787h2.925v1.462h-2.925zM501.637 261.787h2.925v1.462h-2.925zM507.487 261.787h2.925v1.462h-2.925zM513.337 261.787h2.925v1.462h-2.925zM519.188 261.787h2.925v1.462h-2.925zM525.038 261.787h2.925v1.462h-2.925zM530.887 261.787h2.925v1.462h-2.925zM485.550 263.250h2.925v1.462h-2.925zM491.400 263.250h2.925v1.462h-2.925zM497.250 263.250h2.925v1.462h-2.925zM503.100 263.250h2.925v1.462h-2.925zM508.950 263.250h2.925v1.462h-2.925zM514.800 263.250h2.925v1.462h-2.925zM520.650 263.250h2.925v1.462h-2.925zM526.500 263.250h2.925v1.462h-2.925zM532.350 263.250h2.925v1.462h-2.925zM487.012 264.712h2.925v1.462h-2.925zM492.862 264.712h2.925v1.462h-2.925zM498.712 264.712h2.925v1.462h-2.925zM504.562 264.712h2.925v1.462h-2.925zM510.412 264.712h2.925v1.462h-2.925zM516.262 264.712h2.925v1.462h-2.925zM522.112 264.712h2.925v1.462h-2.925zM527.962 264.712h2.925v1.462h-2.925zM533.812 264.712h2.925v1.462h-2.925zM482.625 266.175h2.925v1.462h-2.925zM488.475 266.175h2.925v1.462h-2.925zM494.325 266.175h2.925v1.462h-2.925zM500.175 266.175h2.925v1.462h-2.925zM506.025 266.175h2.925v1.462h-2.925zM511.875 266.175h2.925v1.462h-2.925zM517.725 266.175h2.925v1.462h-2.925zM523.575 266.175h2.925v1.462h-2.925zM529.425 266.175h2.925v1.462h-2.925zM535.275 266.175h2.925v1.462h-2.925zM484.087 267.637h2.925v1.462h-2.925zM489.937 267.637h2.925v1.462h-2.925zM495.787 267.637h2.925v1.462h-2.925zM501.637 267.637h2.925v1.462h-2.925zM507.487 267.637h2.925v1.462h-2.925zM513.337 267.637h2.925v1.462h-2.925zM519.188 267.637h2.925v1.462h-2.925zM525.038 267.637h2.925v1.462h-2.925zM530.887 267.637h2.925v1.462h-2.925zM485.550 269.100h2.925v1.462h-2.925zM491.400 269.100h2.925v1.462h-2.925zM497.250 269.100h2.925v1.462h-2.925zM503.100 269.100h2.925v1.462h-2.925zM508.950 269.100h2.925v1.462h-2.925zM514.800 269.100h2.925v1.462h-2.925zM520.650 269.100h2.925v1.462h-2.925zM526.500 269.100h2.925v1.462h-2.925zM532.350 269.100h2.925v1.462h-2.925zM487.012 270.562h2.925v1.462h-2.925zM492.862 270.562h2.925v1.462h-2.925zM498.712 270.562h2.925v1.462h-2.925zM504.562 270.562h2.925v1.462h-2.925zM510.412 270.562h2.925v1.462h-2.925zM516.262 270.562h2.925v1.462h-2.925zM522.112 270.562h2.925v1.462h-2.925zM527.962 270.562h2.925v1.462h-2.925zM533.812 270.562h2.925v1.462h-2.925zM482.625 272.025h2.925v1.462h-2.925zM488.475 272.025h2.925v1.462h-2.925zM494.325 272.025h2.925v1.462h-2.925zM500.175 272.025h2.925v1.462h-2.925zM506.025 272.025h2.925v1.462h-2.925zM511.875 272.025h2.925v1.462h-2.925zM517.725 272.025h2.925v1.462h-2.925zM523.575 272.025h2.925v1.462h-2.925zM529.425 272.025h2.925v1.462h-2.925zM535.275 272.025h2.925v1.462h-2.925zM484.087 273.488h2.925v1.462h-2.925zM489.937 273.488h2.925v1.462h-2.925zM495.787 273.488h2.925v1.462h-2.925zM501.637 273.488h2.925v1.462h-2.925zM507.487 273.488h2.925v1.462h-2.925zM513.337 273.488h2.925v1.462h-2.925zM519.188 273.488h2.925v1.462h-2.925zM525.038 273.488h2.925v1.462h-2.925zM530.887 273.488h2.925v1.462h-2.925zM485.550 274.950h2.925v1.462h-2.925zM491.400 274.950h2.925v1.462h-2.925zM497.250 274.950h2.925v1.462h-2.925zM503.100 274.950h2.925v1.462h-2.925zM508.950 274.950h2.925v1.462h-2.925zM514.800 274.950h2.925v1.462h-2.925zM520.650 274.950h2.925v1.462h-2.925zM526.500 274.950h2.925v1.462h-2.925zM532.350 274.950h2.925v1.462h-2.925zM487.012 276.412h2.925v1.462h-2.925zM492.862 276.412h2.925v1.462h-2.925zM498.712 276.412h2.925v1.462h-2.925zM504.562 276.412h2.925v1.462h-2.925zM510.412 276.412h2.925v1.462h-2.925zM516.262 276.412h2.925v1.462h-2.925zM522.112 276.412h2.925v1.462h-2.925zM527.962 276.412h2.925v1.462h-2.925zM533.812 276.412h2.925v1.462h-2.925zM482.625 277.875h2.925v1.462h-2.925zM488.475 277.875h2.925v1.462h-2.925zM494.325 277.875h2.925v1.462h-2.925zM500.175 277.875h2.925v1.462h-2.925zM506.025 277.875h2.925v1.462h-2.925zM511.875 277.875h2.925v1.462h-2.925zM517.725 277.875h2.925v1.462h-2.925zM523.575 277.875h2.925v1.462h-2.925zM529.425 277.875h2.925v1.462h-2.925zM535.275 277.875h2.925v1.462h-2.925zM484.087 279.337h2.925v1.462h-2.925zM489.937 279.337h2.925v1.462h-2.925zM495.787 279.337h2.925v1.462h-2.925zM501.637 279.337h2.925v1.462h-2.925zM507.487 279.337h2.925v1.462h-2.925zM513.337 279.337h2.925v1.462h-2.925zM519.188 279.337h2.925v1.462h-2.925zM525.038 279.337h2.925v1.462h-2.925zM530.887 279.337h2.925v1.462h-2.925zM485.550 280.800h2.925v1.462h-2.925zM491.400 280.800h2.925v1.462h-2.925zM497.250 280.800h2.925v1.462h-2.925zM503.100 280.800h2.925v1.462h-2.925zM508.950 280.800h2.925v1.462h-2.925zM514.800 280.800h2.925v1.462h-2.925zM520.650 280.800h2.925v1.462h-2.925zM526.500 280.800h2.925v1.462h-2.925zM532.350 280.800h2.925v1.462h-2.925zM487.012 282.262h2.925v1.462h-2.925zM492.862 282.262h2.925v1.462h-2.925zM498.712 282.262h2.925v1.462h-2.925zM504.562 282.262h2.925v1.462h-2.925zM510.412 282.262h2.925v1.462h-2.925zM516.262 282.262h2.925v1.462h-2.925zM522.112 282.262h2.925v1.462h-2.925zM527.962 282.262h2.925v1.462h-2.925zM533.812 282.262h2.925v1.462h-2.925zM482.625 283.725h2.925v1.462h-2.925zM488.475 283.725h2.925v1.462h-2.925zM494.325 283.725h2.925v1.462h-2.925zM500.175 283.725h2.925v1.462h-2.925zM506.025 283.725h2.925v1.462h-2.925zM511.875 283.725h2.925v1.462h-2.925zM517.725 283.725h2.925v1.462h-2.925zM523.575 283.725h2.925v1.462h-2.925zM529.425 283.725h2.925v1.462h-2.925zM535.275 283.725h2.925v1.462h-2.925zM484.087 285.188h2.925v1.462h-2.925zM489.937 285.188h2.925v1.462h-2.925zM495.787 285.188h2.925v1.462h-2.925zM501.637 285.188h2.925v1.462h-2.925zM507.487 285.188h2.925v1.462h-2.925zM513.337 285.188h2.925v1.462h-2.925zM519.188 285.188h2.925v1.462h-2.925zM525.038 285.188h2.925v1.462h-2.925zM530.887 285.188h2.925v1.462h-2.925zM485.550 286.650h2.925v1.462h-2.925zM491.400 286.650h2.925v1.462h-2.925zM497.250 286.650h2.925v1.462h-2.925zM503.100 286.650h2.925v1.462h-2.925zM508.950 286.650h2.925v1.462h-2.925zM514.800 286.650h2.925v1.462h-2.925zM520.650 286.650h2.925v1.462h-2.925zM526.500 286.650h2.925v1.462h-2.925zM532.350 286.650h2.925v1.462h-2.925zM487.012 288.112h2.925v1.462h-2.925zM492.862 288.112h2.925v1.462h-2.925zM498.712 288.112h2.925v1.462h-2.925zM504.562 288.112h2.925v1.462h-2.925zM510.412 288.112h2.925v1.462h-2.925zM516.262 288.112h2.925v1.462h-2.925zM522.112 288.112h2.925v1.462h-2.925zM527.962 288.112h2.925v1.462h-2.925zM533.812 288.112h2.925v1.462h-2.925zM482.625 289.575h2.925v1.462h-2.925zM488.475 289.575h2.925v1.462h-2.925zM494.325 289.575h2.925v1.462h-2.925zM500.175 289.575h2.925v1.462h-2.925zM506.025 289.575h2.925v1.462h-2.925zM511.875 289.575h2.925v1.462h-2.925zM517.725 289.575h2.925v1.462h-2.925zM523.575 289.575h2.925v1.462h-2.925zM529.425 289.575h2.925v1.462h-2.925zM535.275 289.575h2.925v1.462h-2.925zM484.087 291.037h2.925v1.462h-2.925zM489.937 291.037h2.925v1.462h-2.925zM495.787 291.037h2.925v1.462h-2.925zM501.637 291.037h2.925v1.462h-2.925zM507.487 291.037h2.925v1.462h-2.925zM513.337 291.037h2.925v1.462h-2.925zM519.188 291.037h2.925v1.462h-2.925zM525.038 291.037h2.925v1.462h-2.925zM530.887 291.037h2.925v1.462h-2.925zM485.550 292.500h2.925v1.462h-2.925zM491.400 292.500h2.925v1.462h-2.925zM497.250 292.500h2.925v1.462h-2.925zM503.100 292.500h2.925v1.462h-2.925zM508.950 292.500h2.925v1.462h-2.925zM514.800 292.500h2.925v1.462h-2.925zM520.650 292.500h2.925v1.462h-2.925zM526.500 292.500h2.925v1.462h-2.925zM532.350 292.500h2.925v1.462h-2.925zM487.012 293.962h2.925v1.462h-2.925zM492.862 293.962h2.925v1.462h-2.925zM498.712 293.962h2.925v1.462h-2.925zM504.562 293.962h2.925v1.462h-2.925zM510.412 293.962h2.925v1.462h-2.925zM516.262 293.962h2.925v1.462h-2.925zM522.112 293.962h2.925v1.462h-2.925zM527.962 293.962h2.925v1.462h-2.925zM533.812 293.962h2.925v1.462h-2.925zM482.625 295.425h2.925v1.462h-2.925zM488.475 295.425h2.925v1.462h-2.925zM494.325 295.425h2.925v1.462h-2.925zM500.175 295.425h2.925v1.462h-2.925zM506.025 295.425h2.925v1.462h-2.925zM511.875 295.425h2.925v1.462h-2.925zM517.725 295.425h2.925v1.462h-2.925zM523.575 295.425h2.925v1.462h-2.925zM529.425 295.425h2.925v1.462h-2.925zM535.275 295.425h2.925v1.462h-2.925zM484.087 296.887h2.925v1.462h-2.925zM489.937 296.887h2.925v1.462h-2.925zM495.787 296.887h2.925v1.462h-2.925zM501.637 296.887h2.925v1.462h-2.925zM507.487 296.887h2.925v1.462h-2.925zM513.337 296.887h2.925v1.462h-2.925zM519.188 296.887h2.925v1.462h-2.925zM525.038 296.887h2.925v1.462h-2.925zM530.887 296.887h2.925v1.462h-2.925zM485.550 298.350h2.925v1.462h-2.925zM491.400 298.350h2.925v1.462h-2.925zM497.250 298.350h2.925v1.462h-2.925zM503.100 298.350h2.925v1.462h-2.925zM508.950 298.350h2.925v1.462h-2.925zM514.800 298.350h2.925v1.462h-2.925zM520.650 298.350h2.925v1.462h-2.925zM526.500 298.350h2.925v1.462h-2.925zM532.350 298.350h2.925v1.462h-2.925zM487.012 299.812h2.925v1.462h-2.925zM492.862 299.812h2.925v1.462h-2.925zM498.712 299.812h2.925v1.462h-2.925zM504.562 299.812h2.925v1.462h-2.925zM510.412 299.812h2.925v1.462h-2.925zM516.262 299.812h2.925v1.462h-2.925zM522.112 299.812h2.925v1.462h-2.925zM527.962 299.812h2.925v1.462h-2.925zM533.812 299.812h2.925v1.462h-2.925zM482.625 301.275h2.925v1.462h-2.925zM488.475 301.275h2.925v1.462h-2.925zM494.325 301.275h2.925v1.462h-2.925zM500.175 301.275h2.925v1.462h-2.925zM506.025 301.275h2.925v1.462h-2.925zM511.875 301.275h2.925v1.462h-2.925zM517.725 301.275h2.925v1.462h-2.925zM523.575 301.275h2.925v1.462h-2.925zM529.425 301.275h2.925v1.462h-2.925zM535.275 301.275h2.925v1.462h-2.925zM484.087 302.737h2.925v1.462h-2.925zM489.937 302.737h2.925v1.462h-2.925zM495.787 302.737h2.925v1.462h-2.925zM501.637 302.737h2.925v1.462h-2.925zM507.487 302.737h2.925v1.462h-2.925zM513.337 302.737h2.925v1.462h-2.925zM519.188 302.737h2.925v1.462h-2.925zM525.038 302.737h2.925v1.462h-2.925zM530.887 302.737h2.925v1.462h-2.925zM485.550 304.200h2.925v1.462h-2.925zM491.400 304.200h2.925v1.462h-2.925zM497.250 304.200h2.925v1.462h-2.925zM503.100 304.200h2.925v1.462h-2.925zM508.950 304.200h2.925v1.462h-2.925zM514.800 304.200h2.925v1.462h-2.925zM520.650 304.200h2.925v1.462h-2.925zM526.500 304.200h2.925v1.462h-2.925zM532.350 304.200h2.925v1.462h-2.925zM487.012 305.662h2.925v1.462h-2.925zM492.862 305.662h2.925v1.462h-2.925zM498.712 305.662h2.925v1.462h-2.925zM504.562 305.662h2.925v1.462h-2.925zM510.412 305.662h2.925v1.462h-2.925zM516.262 305.662h2.925v1.462h-2.925zM522.112 305.662h2.925v1.462h-2.925zM527.962 305.662h2.925v1.462h-2.925zM533.812 305.662h2.925v1.462h-2.925zM482.625 307.125h2.925v1.462h-2.925zM488.475 307.125h2.925v1.462h-2.925zM494.325 307.125h2.925v1.462h-2.925zM500.175 307.125h2.925v1.462h-2.925zM506.025 307.125h2.925v1.462h-2.925zM511.875 307.125h2.925v1.462h-2.925zM517.725 307.125h2.925v1.462h-2.925zM523.575 307.125h2.925v1.462h-2.925zM529.425 307.125h2.925v1.462h-2.925zM535.275 307.125h2.925v1.462h-2.925zM484.087 308.587h2.925v1.462h-2.925zM489.937 308.587h2.925v1.462h-2.925zM495.787 308.587h2.925v1.462h-2.925zM501.637 308.587h2.925v1.462h-2.925zM507.487 308.587h2.925v1.462h-2.925zM513.337 308.587h2.925v1.462h-2.925zM519.188 308.587h2.925v1.462h-2.925zM525.038 308.587h2.925v1.462h-2.925zM530.887 308.587h2.925v1.462h-2.925zM485.550 310.050h2.925v1.462h-2.925zM491.400 310.050h2.925v1.462h-2.925zM497.250 310.050h2.925v1.462h-2.925zM503.100 310.050h2.925v1.462h-2.925zM508.950 310.050h2.925v1.462h-2.925zM514.800 310.050h2.925v1.462h-2.925zM520.650 310.050h2.925v1.462h-2.925zM526.500 310.050h2.925v1.462h-2.925zM532.350 310.050h2.925v1.462h-2.925zM487.012 311.512h2.925v1.462h-2.925zM492.862 311.512h2.925v1.462h-2.925zM498.712 311.512h2.925v1.462h-2.925zM504.562 311.512h2.925v1.462h-2.925zM510.412 311.512h2.925v1.462h-2.925zM516.262 311.512h2.925v1.462h-2.925zM522.112 311.512h2.925v1.462h-2.925zM527.962 311.512h2.925v1.462h-2.925zM533.812 311.512h2.925v1.462h-2.925zM482.625 312.975h2.925v1.462h-2.925zM488.475 312.975h2.925v1.462h-2.925zM494.325 312.975h2.925v1.462h-2.925zM500.175 312.975h2.925v1.462h-2.925zM506.025 312.975h2.925v1.462h-2.925zM511.875 312.975h2.925v1.462h-2.925zM517.725 312.975h2.925v1.462h-2.925zM523.575 312.975h2.925v1.462h-2.925zM529.425 312.975h2.925v1.462h-2.925zM535.275 312.975h2.925v1.462h-2.925zM484.087 314.438h2.925v1.462h-2.925zM489.937 314.438h2.925v1.462h-2.925zM495.787 314.438h2.925v1.462h-2.925zM501.637 314.438h2.925v1.462h-2.925zM507.487 314.438h2.925v1.462h-2.925zM513.337 314.438h2.925v1.462h-2.925zM519.188 314.438h2.925v1.462h-2.925zM525.038 314.438h2.925v1.462h-2.925zM530.887 314.438h2.925v1.462h-2.925zM485.550 315.900h2.925v1.462h-2.925zM491.400 315.900h2.925v1.462h-2.925zM497.250 315.900h2.925v1.462h-2.925zM503.100 315.900h2.925v1.462h-2.925zM508.950 315.900h2.925v1.462h-2.925zM514.800 315.900h2.925v1.462h-2.925zM520.650 315.900h2.925v1.462h-2.925zM526.500 315.900h2.925v1.462h-2.925zM532.350 315.900h2.925v1.462h-2.925zM487.012 317.362h2.925v1.462h-2.925zM492.862 317.362h2.925v1.462h-2.925zM498.712 317.362h2.925v1.462h-2.925zM504.562 317.362h2.925v1.462h-2.925zM510.412 317.362h2.925v1.462h-2.925zM516.262 317.362h2.925v1.462h-2.925zM522.112 317.362h2.925v1.462h-2.925zM527.962 317.362h2.925v1.462h-2.925zM533.812 317.362h2.925v1.462h-2.925zM482.625 318.825h2.925v1.462h-2.925zM488.475 318.825h2.925v1.462h-2.925zM494.325 318.825h2.925v1.462h-2.925zM500.175 318.825h2.925v1.462h-2.925zM506.025 318.825h2.925v1.462h-2.925zM511.875 318.825h2.925v1.462h-2.925zM517.725 318.825h2.925v1.462h-2.925zM523.575 318.825h2.925v1.462h-2.925zM529.425 318.825h2.925v1.462h-2.925zM535.275 318.825h2.925v1.462h-2.925z"/>
<rect x="488.95" y="204.25" width="41.30" height="113.75" fill="none" stroke="#000" stroke-width="1.9"/>
<rect x="541.35" y="90.00" width="41.30" height="228.00" fill="#ED7D31" stroke="#000" stroke-width="1.9"/>
<clipPath id="hc4"><rect x="593.75" y="99.90" width="41.30" height="218.10"/></clipPath>
<rect x="593.75" y="99.90" width="41.30" height="218.10" fill="#fff"/>
<path clip-path="url(#hc4)" fill="#ED7D31" d="M589.387 97.987h2.925v1.462h-2.925zM595.237 97.987h2.925v1.462h-2.925zM601.087 97.987h2.925v1.462h-2.925zM606.938 97.987h2.925v1.462h-2.925zM612.787 97.987h2.925v1.462h-2.925zM618.637 97.987h2.925v1.462h-2.925zM624.487 97.987h2.925v1.462h-2.925zM630.337 97.987h2.925v1.462h-2.925zM636.188 97.987h2.925v1.462h-2.925zM590.850 99.450h2.925v1.462h-2.925zM596.700 99.450h2.925v1.462h-2.925zM602.550 99.450h2.925v1.462h-2.925zM608.400 99.450h2.925v1.462h-2.925zM614.250 99.450h2.925v1.462h-2.925zM620.100 99.450h2.925v1.462h-2.925zM625.950 99.450h2.925v1.462h-2.925zM631.800 99.450h2.925v1.462h-2.925zM637.650 99.450h2.925v1.462h-2.925zM586.462 100.912h2.925v1.462h-2.925zM592.312 100.912h2.925v1.462h-2.925zM598.162 100.912h2.925v1.462h-2.925zM604.012 100.912h2.925v1.462h-2.925zM609.862 100.912h2.925v1.462h-2.925zM615.712 100.912h2.925v1.462h-2.925zM621.562 100.912h2.925v1.462h-2.925zM627.412 100.912h2.925v1.462h-2.925zM633.262 100.912h2.925v1.462h-2.925zM639.112 100.912h2.925v1.462h-2.925zM587.925 102.375h2.925v1.462h-2.925zM593.775 102.375h2.925v1.462h-2.925zM599.625 102.375h2.925v1.462h-2.925zM605.475 102.375h2.925v1.462h-2.925zM611.325 102.375h2.925v1.462h-2.925zM617.175 102.375h2.925v1.462h-2.925zM623.025 102.375h2.925v1.462h-2.925zM628.875 102.375h2.925v1.462h-2.925zM634.725 102.375h2.925v1.462h-2.925zM640.575 102.375h2.925v1.462h-2.925zM589.387 103.837h2.925v1.462h-2.925zM595.237 103.837h2.925v1.462h-2.925zM601.087 103.837h2.925v1.462h-2.925zM606.938 103.837h2.925v1.462h-2.925zM612.787 103.837h2.925v1.462h-2.925zM618.637 103.837h2.925v1.462h-2.925zM624.487 103.837h2.925v1.462h-2.925zM630.337 103.837h2.925v1.462h-2.925zM636.188 103.837h2.925v1.462h-2.925zM590.850 105.300h2.925v1.462h-2.925zM596.700 105.300h2.925v1.462h-2.925zM602.550 105.300h2.925v1.462h-2.925zM608.400 105.300h2.925v1.462h-2.925zM614.250 105.300h2.925v1.462h-2.925zM620.100 105.300h2.925v1.462h-2.925zM625.950 105.300h2.925v1.462h-2.925zM631.800 105.300h2.925v1.462h-2.925zM637.650 105.300h2.925v1.462h-2.925zM586.462 106.762h2.925v1.462h-2.925zM592.312 106.762h2.925v1.462h-2.925zM598.162 106.762h2.925v1.462h-2.925zM604.012 106.762h2.925v1.462h-2.925zM609.862 106.762h2.925v1.462h-2.925zM615.712 106.762h2.925v1.462h-2.925zM621.562 106.762h2.925v1.462h-2.925zM627.412 106.762h2.925v1.462h-2.925zM633.262 106.762h2.925v1.462h-2.925zM639.112 106.762h2.925v1.462h-2.925zM587.925 108.225h2.925v1.462h-2.925zM593.775 108.225h2.925v1.462h-2.925zM599.625 108.225h2.925v1.462h-2.925zM605.475 108.225h2.925v1.462h-2.925zM611.325 108.225h2.925v1.462h-2.925zM617.175 108.225h2.925v1.462h-2.925zM623.025 108.225h2.925v1.462h-2.925zM628.875 108.225h2.925v1.462h-2.925zM634.725 108.225h2.925v1.462h-2.925zM640.575 108.225h2.925v1.462h-2.925zM589.387 109.688h2.925v1.462h-2.925zM595.237 109.688h2.925v1.462h-2.925zM601.087 109.688h2.925v1.462h-2.925zM606.938 109.688h2.925v1.462h-2.925zM612.787 109.688h2.925v1.462h-2.925zM618.637 109.688h2.925v1.462h-2.925zM624.487 109.688h2.925v1.462h-2.925zM630.337 109.688h2.925v1.462h-2.925zM636.188 109.688h2.925v1.462h-2.925zM590.850 111.150h2.925v1.462h-2.925zM596.700 111.150h2.925v1.462h-2.925zM602.550 111.150h2.925v1.462h-2.925zM608.400 111.150h2.925v1.462h-2.925zM614.250 111.150h2.925v1.462h-2.925zM620.100 111.150h2.925v1.462h-2.925zM625.950 111.150h2.925v1.462h-2.925zM631.800 111.150h2.925v1.462h-2.925zM637.650 111.150h2.925v1.462h-2.925zM586.462 112.612h2.925v1.462h-2.925zM592.312 112.612h2.925v1.462h-2.925zM598.162 112.612h2.925v1.462h-2.925zM604.012 112.612h2.925v1.462h-2.925zM609.862 112.612h2.925v1.462h-2.925zM615.712 112.612h2.925v1.462h-2.925zM621.562 112.612h2.925v1.462h-2.925zM627.412 112.612h2.925v1.462h-2.925zM633.262 112.612h2.925v1.462h-2.925zM639.112 112.612h2.925v1.462h-2.925zM587.925 114.075h2.925v1.462h-2.925zM593.775 114.075h2.925v1.462h-2.925zM599.625 114.075h2.925v1.462h-2.925zM605.475 114.075h2.925v1.462h-2.925zM611.325 114.075h2.925v1.462h-2.925zM617.175 114.075h2.925v1.462h-2.925zM623.025 114.075h2.925v1.462h-2.925zM628.875 114.075h2.925v1.462h-2.925zM634.725 114.075h2.925v1.462h-2.925zM640.575 114.075h2.925v1.462h-2.925zM589.387 115.537h2.925v1.462h-2.925zM595.237 115.537h2.925v1.462h-2.925zM601.087 115.537h2.925v1.462h-2.925zM606.938 115.537h2.925v1.462h-2.925zM612.787 115.537h2.925v1.462h-2.925zM618.637 115.537h2.925v1.462h-2.925zM624.487 115.537h2.925v1.462h-2.925zM630.337 115.537h2.925v1.462h-2.925zM636.188 115.537h2.925v1.462h-2.925zM590.850 117.000h2.925v1.462h-2.925zM596.700 117.000h2.925v1.462h-2.925zM602.550 117.000h2.925v1.462h-2.925zM608.400 117.000h2.925v1.462h-2.925zM614.250 117.000h2.925v1.462h-2.925zM620.100 117.000h2.925v1.462h-2.925zM625.950 117.000h2.925v1.462h-2.925zM631.800 117.000h2.925v1.462h-2.925zM637.650 117.000h2.925v1.462h-2.925zM586.462 118.462h2.925v1.462h-2.925zM592.312 118.462h2.925v1.462h-2.925zM598.162 118.462h2.925v1.462h-2.925zM604.012 118.462h2.925v1.462h-2.925zM609.862 118.462h2.925v1.462h-2.925zM615.712 118.462h2.925v1.462h-2.925zM621.562 118.462h2.925v1.462h-2.925zM627.412 118.462h2.925v1.462h-2.925zM633.262 118.462h2.925v1.462h-2.925zM639.112 118.462h2.925v1.462h-2.925zM587.925 119.925h2.925v1.462h-2.925zM593.775 119.925h2.925v1.462h-2.925zM599.625 119.925h2.925v1.462h-2.925zM605.475 119.925h2.925v1.462h-2.925zM611.325 119.925h2.925v1.462h-2.925zM617.175 119.925h2.925v1.462h-2.925zM623.025 119.925h2.925v1.462h-2.925zM628.875 119.925h2.925v1.462h-2.925zM634.725 119.925h2.925v1.462h-2.925zM640.575 119.925h2.925v1.462h-2.925zM589.387 121.387h2.925v1.462h-2.925zM595.237 121.387h2.925v1.462h-2.925zM601.087 121.387h2.925v1.462h-2.925zM606.938 121.387h2.925v1.462h-2.925zM612.787 121.387h2.925v1.462h-2.925zM618.637 121.387h2.925v1.462h-2.925zM624.487 121.387h2.925v1.462h-2.925zM630.337 121.387h2.925v1.462h-2.925zM636.188 121.387h2.925v1.462h-2.925zM590.850 122.850h2.925v1.462h-2.925zM596.700 122.850h2.925v1.462h-2.925zM602.550 122.850h2.925v1.462h-2.925zM608.400 122.850h2.925v1.462h-2.925zM614.250 122.850h2.925v1.462h-2.925zM620.100 122.850h2.925v1.462h-2.925zM625.950 122.850h2.925v1.462h-2.925zM631.800 122.850h2.925v1.462h-2.925zM637.650 122.850h2.925v1.462h-2.925zM586.462 124.312h2.925v1.462h-2.925zM592.312 124.312h2.925v1.462h-2.925zM598.162 124.312h2.925v1.462h-2.925zM604.012 124.312h2.925v1.462h-2.925zM609.862 124.312h2.925v1.462h-2.925zM615.712 124.312h2.925v1.462h-2.925zM621.562 124.312h2.925v1.462h-2.925zM627.412 124.312h2.925v1.462h-2.925zM633.262 124.312h2.925v1.462h-2.925zM639.112 124.312h2.925v1.462h-2.925zM587.925 125.775h2.925v1.462h-2.925zM593.775 125.775h2.925v1.462h-2.925zM599.625 125.775h2.925v1.462h-2.925zM605.475 125.775h2.925v1.462h-2.925zM611.325 125.775h2.925v1.462h-2.925zM617.175 125.775h2.925v1.462h-2.925zM623.025 125.775h2.925v1.462h-2.925zM628.875 125.775h2.925v1.462h-2.925zM634.725 125.775h2.925v1.462h-2.925zM640.575 125.775h2.925v1.462h-2.925zM589.387 127.237h2.925v1.462h-2.925zM595.237 127.237h2.925v1.462h-2.925zM601.087 127.237h2.925v1.462h-2.925zM606.938 127.237h2.925v1.462h-2.925zM612.787 127.237h2.925v1.462h-2.925zM618.637 127.237h2.925v1.462h-2.925zM624.487 127.237h2.925v1.462h-2.925zM630.337 127.237h2.925v1.462h-2.925zM636.188 127.237h2.925v1.462h-2.925zM590.850 128.700h2.925v1.462h-2.925zM596.700 128.700h2.925v1.462h-2.925zM602.550 128.700h2.925v1.462h-2.925zM608.400 128.700h2.925v1.462h-2.925zM614.250 128.700h2.925v1.462h-2.925zM620.100 128.700h2.925v1.462h-2.925zM625.950 128.700h2.925v1.462h-2.925zM631.800 128.700h2.925v1.462h-2.925zM637.650 128.700h2.925v1.462h-2.925zM586.462 130.162h2.925v1.462h-2.925zM592.312 130.162h2.925v1.462h-2.925zM598.162 130.162h2.925v1.462h-2.925zM604.012 130.162h2.925v1.462h-2.925zM609.862 130.162h2.925v1.462h-2.925zM615.712 130.162h2.925v1.462h-2.925zM621.562 130.162h2.925v1.462h-2.925zM627.412 130.162h2.925v1.462h-2.925zM633.262 130.162h2.925v1.462h-2.925zM639.112 130.162h2.925v1.462h-2.925zM587.925 131.625h2.925v1.462h-2.925zM593.775 131.625h2.925v1.462h-2.925zM599.625 131.625h2.925v1.462h-2.925zM605.475 131.625h2.925v1.462h-2.925zM611.325 131.625h2.925v1.462h-2.925zM617.175 131.625h2.925v1.462h-2.925zM623.025 131.625h2.925v1.462h-2.925zM628.875 131.625h2.925v1.462h-2.925zM634.725 131.625h2.925v1.462h-2.925zM640.575 131.625h2.925v1.462h-2.925zM589.387 133.088h2.925v1.462h-2.925zM595.237 133.088h2.925v1.462h-2.925zM601.087 133.088h2.925v1.462h-2.925zM606.938 133.088h2.925v1.462h-2.925zM612.787 133.088h2.925v1.462h-2.925zM618.637 133.088h2.925v1.462h-2.925zM624.487 133.088h2.925v1.462h-2.925zM630.337 133.088h2.925v1.462h-2.925zM636.188 133.088h2.925v1.462h-2.925zM590.850 134.550h2.925v1.462h-2.925zM596.700 134.550h2.925v1.462h-2.925zM602.550 134.550h2.925v1.462h-2.925zM608.400 134.550h2.925v1.462h-2.925zM614.250 134.550h2.925v1.462h-2.925zM620.100 134.550h2.925v1.462h-2.925zM625.950 134.550h2.925v1.462h-2.925zM631.800 134.550h2.925v1.462h-2.925zM637.650 134.550h2.925v1.462h-2.925zM586.462 136.012h2.925v1.462h-2.925zM592.312 136.012h2.925v1.462h-2.925zM598.162 136.012h2.925v1.462h-2.925zM604.012 136.012h2.925v1.462h-2.925zM609.862 136.012h2.925v1.462h-2.925zM615.712 136.012h2.925v1.462h-2.925zM621.562 136.012h2.925v1.462h-2.925zM627.412 136.012h2.925v1.462h-2.925zM633.262 136.012h2.925v1.462h-2.925zM639.112 136.012h2.925v1.462h-2.925zM587.925 137.475h2.925v1.462h-2.925zM593.775 137.475h2.925v1.462h-2.925zM599.625 137.475h2.925v1.462h-2.925zM605.475 137.475h2.925v1.462h-2.925zM611.325 137.475h2.925v1.462h-2.925zM617.175 137.475h2.925v1.462h-2.925zM623.025 137.475h2.925v1.462h-2.925zM628.875 137.475h2.925v1.462h-2.925zM634.725 137.475h2.925v1.462h-2.925zM640.575 137.475h2.925v1.462h-2.925zM589.387 138.938h2.925v1.462h-2.925zM595.237 138.938h2.925v1.462h-2.925zM601.087 138.938h2.925v1.462h-2.925zM606.938 138.938h2.925v1.462h-2.925zM612.787 138.938h2.925v1.462h-2.925zM618.637 138.938h2.925v1.462h-2.925zM624.487 138.938h2.925v1.462h-2.925zM630.337 138.938h2.925v1.462h-2.925zM636.188 138.938h2.925v1.462h-2.925zM590.850 140.400h2.925v1.462h-2.925zM596.700 140.400h2.925v1.462h-2.925zM602.550 140.400h2.925v1.462h-2.925zM608.400 140.400h2.925v1.462h-2.925zM614.250 140.400h2.925v1.462h-2.925zM620.100 140.400h2.925v1.462h-2.925zM625.950 140.400h2.925v1.462h-2.925zM631.800 140.400h2.925v1.462h-2.925zM637.650 140.400h2.925v1.462h-2.925zM586.462 141.862h2.925v1.462h-2.925zM592.312 141.862h2.925v1.462h-2.925zM598.162 141.862h2.925v1.462h-2.925zM604.012 141.862h2.925v1.462h-2.925zM609.862 141.862h2.925v1.462h-2.925zM615.712 141.862h2.925v1.462h-2.925zM621.562 141.862h2.925v1.462h-2.925zM627.412 141.862h2.925v1.462h-2.925zM633.262 141.862h2.925v1.462h-2.925zM639.112 141.862h2.925v1.462h-2.925zM587.925 143.325h2.925v1.462h-2.925zM593.775 143.325h2.925v1.462h-2.925zM599.625 143.325h2.925v1.462h-2.925zM605.475 143.325h2.925v1.462h-2.925zM611.325 143.325h2.925v1.462h-2.925zM617.175 143.325h2.925v1.462h-2.925zM623.025 143.325h2.925v1.462h-2.925zM628.875 143.325h2.925v1.462h-2.925zM634.725 143.325h2.925v1.462h-2.925zM640.575 143.325h2.925v1.462h-2.925zM589.387 144.787h2.925v1.462h-2.925zM595.237 144.787h2.925v1.462h-2.925zM601.087 144.787h2.925v1.462h-2.925zM606.938 144.787h2.925v1.462h-2.925zM612.787 144.787h2.925v1.462h-2.925zM618.637 144.787h2.925v1.462h-2.925zM624.487 144.787h2.925v1.462h-2.925zM630.337 144.787h2.925v1.462h-2.925zM636.188 144.787h2.925v1.462h-2.925zM590.850 146.250h2.925v1.462h-2.925zM596.700 146.250h2.925v1.462h-2.925zM602.550 146.250h2.925v1.462h-2.925zM608.400 146.250h2.925v1.462h-2.925zM614.250 146.250h2.925v1.462h-2.925zM620.100 146.250h2.925v1.462h-2.925zM625.950 146.250h2.925v1.462h-2.925zM631.800 146.250h2.925v1.462h-2.925zM637.650 146.250h2.925v1.462h-2.925zM586.462 147.712h2.925v1.462h-2.925zM592.312 147.712h2.925v1.462h-2.925zM598.162 147.712h2.925v1.462h-2.925zM604.012 147.712h2.925v1.462h-2.925zM609.862 147.712h2.925v1.462h-2.925zM615.712 147.712h2.925v1.462h-2.925zM621.562 147.712h2.925v1.462h-2.925zM627.412 147.712h2.925v1.462h-2.925zM633.262 147.712h2.925v1.462h-2.925zM639.112 147.712h2.925v1.462h-2.925zM587.925 149.175h2.925v1.462h-2.925zM593.775 149.175h2.925v1.462h-2.925zM599.625 149.175h2.925v1.462h-2.925zM605.475 149.175h2.925v1.462h-2.925zM611.325 149.175h2.925v1.462h-2.925zM617.175 149.175h2.925v1.462h-2.925zM623.025 149.175h2.925v1.462h-2.925zM628.875 149.175h2.925v1.462h-2.925zM634.725 149.175h2.925v1.462h-2.925zM640.575 149.175h2.925v1.462h-2.925zM589.387 150.637h2.925v1.462h-2.925zM595.237 150.637h2.925v1.462h-2.925zM601.087 150.637h2.925v1.462h-2.925zM606.938 150.637h2.925v1.462h-2.925zM612.787 150.637h2.925v1.462h-2.925zM618.637 150.637h2.925v1.462h-2.925zM624.487 150.637h2.925v1.462h-2.925zM630.337 150.637h2.925v1.462h-2.925zM636.188 150.637h2.925v1.462h-2.925zM590.850 152.100h2.925v1.462h-2.925zM596.700 152.100h2.925v1.462h-2.925zM602.550 152.100h2.925v1.462h-2.925zM608.400 152.100h2.925v1.462h-2.925zM614.250 152.100h2.925v1.462h-2.925zM620.100 152.100h2.925v1.462h-2.925zM625.950 152.100h2.925v1.462h-2.925zM631.800 152.100h2.925v1.462h-2.925zM637.650 152.100h2.925v1.462h-2.925zM586.462 153.562h2.925v1.462h-2.925zM592.312 153.562h2.925v1.462h-2.925zM598.162 153.562h2.925v1.462h-2.925zM604.012 153.562h2.925v1.462h-2.925zM609.862 153.562h2.925v1.462h-2.925zM615.712 153.562h2.925v1.462h-2.925zM621.562 153.562h2.925v1.462h-2.925zM627.412 153.562h2.925v1.462h-2.925zM633.262 153.562h2.925v1.462h-2.925zM639.112 153.562h2.925v1.462h-2.925zM587.925 155.025h2.925v1.462h-2.925zM593.775 155.025h2.925v1.462h-2.925zM599.625 155.025h2.925v1.462h-2.925zM605.475 155.025h2.925v1.462h-2.925zM611.325 155.025h2.925v1.462h-2.925zM617.175 155.025h2.925v1.462h-2.925zM623.025 155.025h2.925v1.462h-2.925zM628.875 155.025h2.925v1.462h-2.925zM634.725 155.025h2.925v1.462h-2.925zM640.575 155.025h2.925v1.462h-2.925zM589.387 156.487h2.925v1.462h-2.925zM595.237 156.487h2.925v1.462h-2.925zM601.087 156.487h2.925v1.462h-2.925zM606.938 156.487h2.925v1.462h-2.925zM612.787 156.487h2.925v1.462h-2.925zM618.637 156.487h2.925v1.462h-2.925zM624.487 156.487h2.925v1.462h-2.925zM630.337 156.487h2.925v1.462h-2.925zM636.188 156.487h2.925v1.462h-2.925zM590.850 157.950h2.925v1.462h-2.925zM596.700 157.950h2.925v1.462h-2.925zM602.550 157.950h2.925v1.462h-2.925zM608.400 157.950h2.925v1.462h-2.925zM614.250 157.950h2.925v1.462h-2.925zM620.100 157.950h2.925v1.462h-2.925zM625.950 157.950h2.925v1.462h-2.925zM631.800 157.950h2.925v1.462h-2.925zM637.650 157.950h2.925v1.462h-2.925zM586.462 159.412h2.925v1.462h-2.925zM592.312 159.412h2.925v1.462h-2.925zM598.162 159.412h2.925v1.462h-2.925zM604.012 159.412h2.925v1.462h-2.925zM609.862 159.412h2.925v1.462h-2.925zM615.712 159.412h2.925v1.462h-2.925zM621.562 159.412h2.925v1.462h-2.925zM627.412 159.412h2.925v1.462h-2.925zM633.262 159.412h2.925v1.462h-2.925zM639.112 159.412h2.925v1.462h-2.925zM587.925 160.875h2.925v1.462h-2.925zM593.775 160.875h2.925v1.462h-2.925zM599.625 160.875h2.925v1.462h-2.925zM605.475 160.875h2.925v1.462h-2.925zM611.325 160.875h2.925v1.462h-2.925zM617.175 160.875h2.925v1.462h-2.925zM623.025 160.875h2.925v1.462h-2.925zM628.875 160.875h2.925v1.462h-2.925zM634.725 160.875h2.925v1.462h-2.925zM640.575 160.875h2.925v1.462h-2.925zM589.387 162.337h2.925v1.462h-2.925zM595.237 162.337h2.925v1.462h-2.925zM601.087 162.337h2.925v1.462h-2.925zM606.938 162.337h2.925v1.462h-2.925zM612.787 162.337h2.925v1.462h-2.925zM618.637 162.337h2.925v1.462h-2.925zM624.487 162.337h2.925v1.462h-2.925zM630.337 162.337h2.925v1.462h-2.925zM636.188 162.337h2.925v1.462h-2.925zM590.850 163.800h2.925v1.462h-2.925zM596.700 163.800h2.925v1.462h-2.925zM602.550 163.800h2.925v1.462h-2.925zM608.400 163.800h2.925v1.462h-2.925zM614.250 163.800h2.925v1.462h-2.925zM620.100 163.800h2.925v1.462h-2.925zM625.950 163.800h2.925v1.462h-2.925zM631.800 163.800h2.925v1.462h-2.925zM637.650 163.800h2.925v1.462h-2.925zM586.462 165.262h2.925v1.462h-2.925zM592.312 165.262h2.925v1.462h-2.925zM598.162 165.262h2.925v1.462h-2.925zM604.012 165.262h2.925v1.462h-2.925zM609.862 165.262h2.925v1.462h-2.925zM615.712 165.262h2.925v1.462h-2.925zM621.562 165.262h2.925v1.462h-2.925zM627.412 165.262h2.925v1.462h-2.925zM633.262 165.262h2.925v1.462h-2.925zM639.112 165.262h2.925v1.462h-2.925zM587.925 166.725h2.925v1.462h-2.925zM593.775 166.725h2.925v1.462h-2.925zM599.625 166.725h2.925v1.462h-2.925zM605.475 166.725h2.925v1.462h-2.925zM611.325 166.725h2.925v1.462h-2.925zM617.175 166.725h2.925v1.462h-2.925zM623.025 166.725h2.925v1.462h-2.925zM628.875 166.725h2.925v1.462h-2.925zM634.725 166.725h2.925v1.462h-2.925zM640.575 166.725h2.925v1.462h-2.925zM589.387 168.188h2.925v1.462h-2.925zM595.237 168.188h2.925v1.462h-2.925zM601.087 168.188h2.925v1.462h-2.925zM606.938 168.188h2.925v1.462h-2.925zM612.787 168.188h2.925v1.462h-2.925zM618.637 168.188h2.925v1.462h-2.925zM624.487 168.188h2.925v1.462h-2.925zM630.337 168.188h2.925v1.462h-2.925zM636.188 168.188h2.925v1.462h-2.925zM590.850 169.650h2.925v1.462h-2.925zM596.700 169.650h2.925v1.462h-2.925zM602.550 169.650h2.925v1.462h-2.925zM608.400 169.650h2.925v1.462h-2.925zM614.250 169.650h2.925v1.462h-2.925zM620.100 169.650h2.925v1.462h-2.925zM625.950 169.650h2.925v1.462h-2.925zM631.800 169.650h2.925v1.462h-2.925zM637.650 169.650h2.925v1.462h-2.925zM586.462 171.112h2.925v1.462h-2.925zM592.312 171.112h2.925v1.462h-2.925zM598.162 171.112h2.925v1.462h-2.925zM604.012 171.112h2.925v1.462h-2.925zM609.862 171.112h2.925v1.462h-2.925zM615.712 171.112h2.925v1.462h-2.925zM621.562 171.112h2.925v1.462h-2.925zM627.412 171.112h2.925v1.462h-2.925zM633.262 171.112h2.925v1.462h-2.925zM639.112 171.112h2.925v1.462h-2.925zM587.925 172.575h2.925v1.462h-2.925zM593.775 172.575h2.925v1.462h-2.925zM599.625 172.575h2.925v1.462h-2.925zM605.475 172.575h2.925v1.462h-2.925zM611.325 172.575h2.925v1.462h-2.925zM617.175 172.575h2.925v1.462h-2.925zM623.025 172.575h2.925v1.462h-2.925zM628.875 172.575h2.925v1.462h-2.925zM634.725 172.575h2.925v1.462h-2.925zM640.575 172.575h2.925v1.462h-2.925zM589.387 174.037h2.925v1.462h-2.925zM595.237 174.037h2.925v1.462h-2.925zM601.087 174.037h2.925v1.462h-2.925zM606.938 174.037h2.925v1.462h-2.925zM612.787 174.037h2.925v1.462h-2.925zM618.637 174.037h2.925v1.462h-2.925zM624.487 174.037h2.925v1.462h-2.925zM630.337 174.037h2.925v1.462h-2.925zM636.188 174.037h2.925v1.462h-2.925zM590.850 175.500h2.925v1.462h-2.925zM596.700 175.500h2.925v1.462h-2.925zM602.550 175.500h2.925v1.462h-2.925zM608.400 175.500h2.925v1.462h-2.925zM614.250 175.500h2.925v1.462h-2.925zM620.100 175.500h2.925v1.462h-2.925zM625.950 175.500h2.925v1.462h-2.925zM631.800 175.500h2.925v1.462h-2.925zM637.650 175.500h2.925v1.462h-2.925zM586.462 176.962h2.925v1.462h-2.925zM592.312 176.962h2.925v1.462h-2.925zM598.162 176.962h2.925v1.462h-2.925zM604.012 176.962h2.925v1.462h-2.925zM609.862 176.962h2.925v1.462h-2.925zM615.712 176.962h2.925v1.462h-2.925zM621.562 176.962h2.925v1.462h-2.925zM627.412 176.962h2.925v1.462h-2.925zM633.262 176.962h2.925v1.462h-2.925zM639.112 176.962h2.925v1.462h-2.925zM587.925 178.425h2.925v1.462h-2.925zM593.775 178.425h2.925v1.462h-2.925zM599.625 178.425h2.925v1.462h-2.925zM605.475 178.425h2.925v1.462h-2.925zM611.325 178.425h2.925v1.462h-2.925zM617.175 178.425h2.925v1.462h-2.925zM623.025 178.425h2.925v1.462h-2.925zM628.875 178.425h2.925v1.462h-2.925zM634.725 178.425h2.925v1.462h-2.925zM640.575 178.425h2.925v1.462h-2.925zM589.387 179.887h2.925v1.462h-2.925zM595.237 179.887h2.925v1.462h-2.925zM601.087 179.887h2.925v1.462h-2.925zM606.938 179.887h2.925v1.462h-2.925zM612.787 179.887h2.925v1.462h-2.925zM618.637 179.887h2.925v1.462h-2.925zM624.487 179.887h2.925v1.462h-2.925zM630.337 179.887h2.925v1.462h-2.925zM636.188 179.887h2.925v1.462h-2.925zM590.850 181.350h2.925v1.462h-2.925zM596.700 181.350h2.925v1.462h-2.925zM602.550 181.350h2.925v1.462h-2.925zM608.400 181.350h2.925v1.462h-2.925zM614.250 181.350h2.925v1.462h-2.925zM620.100 181.350h2.925v1.462h-2.925zM625.950 181.350h2.925v1.462h-2.925zM631.800 181.350h2.925v1.462h-2.925zM637.650 181.350h2.925v1.462h-2.925zM586.462 182.812h2.925v1.462h-2.925zM592.312 182.812h2.925v1.462h-2.925zM598.162 182.812h2.925v1.462h-2.925zM604.012 182.812h2.925v1.462h-2.925zM609.862 182.812h2.925v1.462h-2.925zM615.712 182.812h2.925v1.462h-2.925zM621.562 182.812h2.925v1.462h-2.925zM627.412 182.812h2.925v1.462h-2.925zM633.262 182.812h2.925v1.462h-2.925zM639.112 182.812h2.925v1.462h-2.925zM587.925 184.275h2.925v1.462h-2.925zM593.775 184.275h2.925v1.462h-2.925zM599.625 184.275h2.925v1.462h-2.925zM605.475 184.275h2.925v1.462h-2.925zM611.325 184.275h2.925v1.462h-2.925zM617.175 184.275h2.925v1.462h-2.925zM623.025 184.275h2.925v1.462h-2.925zM628.875 184.275h2.925v1.462h-2.925zM634.725 184.275h2.925v1.462h-2.925zM640.575 184.275h2.925v1.462h-2.925zM589.387 185.737h2.925v1.462h-2.925zM595.237 185.737h2.925v1.462h-2.925zM601.087 185.737h2.925v1.462h-2.925zM606.938 185.737h2.925v1.462h-2.925zM612.787 185.737h2.925v1.462h-2.925zM618.637 185.737h2.925v1.462h-2.925zM624.487 185.737h2.925v1.462h-2.925zM630.337 185.737h2.925v1.462h-2.925zM636.188 185.737h2.925v1.462h-2.925zM590.850 187.200h2.925v1.462h-2.925zM596.700 187.200h2.925v1.462h-2.925zM602.550 187.200h2.925v1.462h-2.925zM608.400 187.200h2.925v1.462h-2.925zM614.250 187.200h2.925v1.462h-2.925zM620.100 187.200h2.925v1.462h-2.925zM625.950 187.200h2.925v1.462h-2.925zM631.800 187.200h2.925v1.462h-2.925zM637.650 187.200h2.925v1.462h-2.925zM586.462 188.662h2.925v1.462h-2.925zM592.312 188.662h2.925v1.462h-2.925zM598.162 188.662h2.925v1.462h-2.925zM604.012 188.662h2.925v1.462h-2.925zM609.862 188.662h2.925v1.462h-2.925zM615.712 188.662h2.925v1.462h-2.925zM621.562 188.662h2.925v1.462h-2.925zM627.412 188.662h2.925v1.462h-2.925zM633.262 188.662h2.925v1.462h-2.925zM639.112 188.662h2.925v1.462h-2.925zM587.925 190.125h2.925v1.462h-2.925zM593.775 190.125h2.925v1.462h-2.925zM599.625 190.125h2.925v1.462h-2.925zM605.475 190.125h2.925v1.462h-2.925zM611.325 190.125h2.925v1.462h-2.925zM617.175 190.125h2.925v1.462h-2.925zM623.025 190.125h2.925v1.462h-2.925zM628.875 190.125h2.925v1.462h-2.925zM634.725 190.125h2.925v1.462h-2.925zM640.575 190.125h2.925v1.462h-2.925zM589.387 191.587h2.925v1.462h-2.925zM595.237 191.587h2.925v1.462h-2.925zM601.087 191.587h2.925v1.462h-2.925zM606.938 191.587h2.925v1.462h-2.925zM612.787 191.587h2.925v1.462h-2.925zM618.637 191.587h2.925v1.462h-2.925zM624.487 191.587h2.925v1.462h-2.925zM630.337 191.587h2.925v1.462h-2.925zM636.188 191.587h2.925v1.462h-2.925zM590.850 193.050h2.925v1.462h-2.925zM596.700 193.050h2.925v1.462h-2.925zM602.550 193.050h2.925v1.462h-2.925zM608.400 193.050h2.925v1.462h-2.925zM614.250 193.050h2.925v1.462h-2.925zM620.100 193.050h2.925v1.462h-2.925zM625.950 193.050h2.925v1.462h-2.925zM631.800 193.050h2.925v1.462h-2.925zM637.650 193.050h2.925v1.462h-2.925zM586.462 194.512h2.925v1.462h-2.925zM592.312 194.512h2.925v1.462h-2.925zM598.162 194.512h2.925v1.462h-2.925zM604.012 194.512h2.925v1.462h-2.925zM609.862 194.512h2.925v1.462h-2.925zM615.712 194.512h2.925v1.462h-2.925zM621.562 194.512h2.925v1.462h-2.925zM627.412 194.512h2.925v1.462h-2.925zM633.262 194.512h2.925v1.462h-2.925zM639.112 194.512h2.925v1.462h-2.925zM587.925 195.975h2.925v1.462h-2.925zM593.775 195.975h2.925v1.462h-2.925zM599.625 195.975h2.925v1.462h-2.925zM605.475 195.975h2.925v1.462h-2.925zM611.325 195.975h2.925v1.462h-2.925zM617.175 195.975h2.925v1.462h-2.925zM623.025 195.975h2.925v1.462h-2.925zM628.875 195.975h2.925v1.462h-2.925zM634.725 195.975h2.925v1.462h-2.925zM640.575 195.975h2.925v1.462h-2.925zM589.387 197.438h2.925v1.462h-2.925zM595.237 197.438h2.925v1.462h-2.925zM601.087 197.438h2.925v1.462h-2.925zM606.938 197.438h2.925v1.462h-2.925zM612.787 197.438h2.925v1.462h-2.925zM618.637 197.438h2.925v1.462h-2.925zM624.487 197.438h2.925v1.462h-2.925zM630.337 197.438h2.925v1.462h-2.925zM636.188 197.438h2.925v1.462h-2.925zM590.850 198.900h2.925v1.462h-2.925zM596.700 198.900h2.925v1.462h-2.925zM602.550 198.900h2.925v1.462h-2.925zM608.400 198.900h2.925v1.462h-2.925zM614.250 198.900h2.925v1.462h-2.925zM620.100 198.900h2.925v1.462h-2.925zM625.950 198.900h2.925v1.462h-2.925zM631.800 198.900h2.925v1.462h-2.925zM637.650 198.900h2.925v1.462h-2.925zM586.462 200.362h2.925v1.462h-2.925zM592.312 200.362h2.925v1.462h-2.925zM598.162 200.362h2.925v1.462h-2.925zM604.012 200.362h2.925v1.462h-2.925zM609.862 200.362h2.925v1.462h-2.925zM615.712 200.362h2.925v1.462h-2.925zM621.562 200.362h2.925v1.462h-2.925zM627.412 200.362h2.925v1.462h-2.925zM633.262 200.362h2.925v1.462h-2.925zM639.112 200.362h2.925v1.462h-2.925zM587.925 201.825h2.925v1.462h-2.925zM593.775 201.825h2.925v1.462h-2.925zM599.625 201.825h2.925v1.462h-2.925zM605.475 201.825h2.925v1.462h-2.925zM611.325 201.825h2.925v1.462h-2.925zM617.175 201.825h2.925v1.462h-2.925zM623.025 201.825h2.925v1.462h-2.925zM628.875 201.825h2.925v1.462h-2.925zM634.725 201.825h2.925v1.462h-2.925zM640.575 201.825h2.925v1.462h-2.925zM589.387 203.287h2.925v1.462h-2.925zM595.237 203.287h2.925v1.462h-2.925zM601.087 203.287h2.925v1.462h-2.925zM606.938 203.287h2.925v1.462h-2.925zM612.787 203.287h2.925v1.462h-2.925zM618.637 203.287h2.925v1.462h-2.925zM624.487 203.287h2.925v1.462h-2.925zM630.337 203.287h2.925v1.462h-2.925zM636.188 203.287h2.925v1.462h-2.925zM590.850 204.750h2.925v1.462h-2.925zM596.700 204.750h2.925v1.462h-2.925zM602.550 204.750h2.925v1.462h-2.925zM608.400 204.750h2.925v1.462h-2.925zM614.250 204.750h2.925v1.462h-2.925zM620.100 204.750h2.925v1.462h-2.925zM625.950 204.750h2.925v1.462h-2.925zM631.800 204.750h2.925v1.462h-2.925zM637.650 204.750h2.925v1.462h-2.925zM586.462 206.212h2.925v1.462h-2.925zM592.312 206.212h2.925v1.462h-2.925zM598.162 206.212h2.925v1.462h-2.925zM604.012 206.212h2.925v1.462h-2.925zM609.862 206.212h2.925v1.462h-2.925zM615.712 206.212h2.925v1.462h-2.925zM621.562 206.212h2.925v1.462h-2.925zM627.412 206.212h2.925v1.462h-2.925zM633.262 206.212h2.925v1.462h-2.925zM639.112 206.212h2.925v1.462h-2.925zM587.925 207.675h2.925v1.462h-2.925zM593.775 207.675h2.925v1.462h-2.925zM599.625 207.675h2.925v1.462h-2.925zM605.475 207.675h2.925v1.462h-2.925zM611.325 207.675h2.925v1.462h-2.925zM617.175 207.675h2.925v1.462h-2.925zM623.025 207.675h2.925v1.462h-2.925zM628.875 207.675h2.925v1.462h-2.925zM634.725 207.675h2.925v1.462h-2.925zM640.575 207.675h2.925v1.462h-2.925zM589.387 209.137h2.925v1.462h-2.925zM595.237 209.137h2.925v1.462h-2.925zM601.087 209.137h2.925v1.462h-2.925zM606.938 209.137h2.925v1.462h-2.925zM612.787 209.137h2.925v1.462h-2.925zM618.637 209.137h2.925v1.462h-2.925zM624.487 209.137h2.925v1.462h-2.925zM630.337 209.137h2.925v1.462h-2.925zM636.188 209.137h2.925v1.462h-2.925zM590.850 210.600h2.925v1.462h-2.925zM596.700 210.600h2.925v1.462h-2.925zM602.550 210.600h2.925v1.462h-2.925zM608.400 210.600h2.925v1.462h-2.925zM614.250 210.600h2.925v1.462h-2.925zM620.100 210.600h2.925v1.462h-2.925zM625.950 210.600h2.925v1.462h-2.925zM631.800 210.600h2.925v1.462h-2.925zM637.650 210.600h2.925v1.462h-2.925zM586.462 212.062h2.925v1.462h-2.925zM592.312 212.062h2.925v1.462h-2.925zM598.162 212.062h2.925v1.462h-2.925zM604.012 212.062h2.925v1.462h-2.925zM609.862 212.062h2.925v1.462h-2.925zM615.712 212.062h2.925v1.462h-2.925zM621.562 212.062h2.925v1.462h-2.925zM627.412 212.062h2.925v1.462h-2.925zM633.262 212.062h2.925v1.462h-2.925zM639.112 212.062h2.925v1.462h-2.925zM587.925 213.525h2.925v1.462h-2.925zM593.775 213.525h2.925v1.462h-2.925zM599.625 213.525h2.925v1.462h-2.925zM605.475 213.525h2.925v1.462h-2.925zM611.325 213.525h2.925v1.462h-2.925zM617.175 213.525h2.925v1.462h-2.925zM623.025 213.525h2.925v1.462h-2.925zM628.875 213.525h2.925v1.462h-2.925zM634.725 213.525h2.925v1.462h-2.925zM640.575 213.525h2.925v1.462h-2.925zM589.387 214.987h2.925v1.462h-2.925zM595.237 214.987h2.925v1.462h-2.925zM601.087 214.987h2.925v1.462h-2.925zM606.938 214.987h2.925v1.462h-2.925zM612.787 214.987h2.925v1.462h-2.925zM618.637 214.987h2.925v1.462h-2.925zM624.487 214.987h2.925v1.462h-2.925zM630.337 214.987h2.925v1.462h-2.925zM636.188 214.987h2.925v1.462h-2.925zM590.850 216.450h2.925v1.462h-2.925zM596.700 216.450h2.925v1.462h-2.925zM602.550 216.450h2.925v1.462h-2.925zM608.400 216.450h2.925v1.462h-2.925zM614.250 216.450h2.925v1.462h-2.925zM620.100 216.450h2.925v1.462h-2.925zM625.950 216.450h2.925v1.462h-2.925zM631.800 216.450h2.925v1.462h-2.925zM637.650 216.450h2.925v1.462h-2.925zM586.462 217.912h2.925v1.462h-2.925zM592.312 217.912h2.925v1.462h-2.925zM598.162 217.912h2.925v1.462h-2.925zM604.012 217.912h2.925v1.462h-2.925zM609.862 217.912h2.925v1.462h-2.925zM615.712 217.912h2.925v1.462h-2.925zM621.562 217.912h2.925v1.462h-2.925zM627.412 217.912h2.925v1.462h-2.925zM633.262 217.912h2.925v1.462h-2.925zM639.112 217.912h2.925v1.462h-2.925zM587.925 219.375h2.925v1.462h-2.925zM593.775 219.375h2.925v1.462h-2.925zM599.625 219.375h2.925v1.462h-2.925zM605.475 219.375h2.925v1.462h-2.925zM611.325 219.375h2.925v1.462h-2.925zM617.175 219.375h2.925v1.462h-2.925zM623.025 219.375h2.925v1.462h-2.925zM628.875 219.375h2.925v1.462h-2.925zM634.725 219.375h2.925v1.462h-2.925zM640.575 219.375h2.925v1.462h-2.925zM589.387 220.837h2.925v1.462h-2.925zM595.237 220.837h2.925v1.462h-2.925zM601.087 220.837h2.925v1.462h-2.925zM606.938 220.837h2.925v1.462h-2.925zM612.787 220.837h2.925v1.462h-2.925zM618.637 220.837h2.925v1.462h-2.925zM624.487 220.837h2.925v1.462h-2.925zM630.337 220.837h2.925v1.462h-2.925zM636.188 220.837h2.925v1.462h-2.925zM590.850 222.300h2.925v1.462h-2.925zM596.700 222.300h2.925v1.462h-2.925zM602.550 222.300h2.925v1.462h-2.925zM608.400 222.300h2.925v1.462h-2.925zM614.250 222.300h2.925v1.462h-2.925zM620.100 222.300h2.925v1.462h-2.925zM625.950 222.300h2.925v1.462h-2.925zM631.800 222.300h2.925v1.462h-2.925zM637.650 222.300h2.925v1.462h-2.925zM586.462 223.762h2.925v1.462h-2.925zM592.312 223.762h2.925v1.462h-2.925zM598.162 223.762h2.925v1.462h-2.925zM604.012 223.762h2.925v1.462h-2.925zM609.862 223.762h2.925v1.462h-2.925zM615.712 223.762h2.925v1.462h-2.925zM621.562 223.762h2.925v1.462h-2.925zM627.412 223.762h2.925v1.462h-2.925zM633.262 223.762h2.925v1.462h-2.925zM639.112 223.762h2.925v1.462h-2.925zM587.925 225.225h2.925v1.462h-2.925zM593.775 225.225h2.925v1.462h-2.925zM599.625 225.225h2.925v1.462h-2.925zM605.475 225.225h2.925v1.462h-2.925zM611.325 225.225h2.925v1.462h-2.925zM617.175 225.225h2.925v1.462h-2.925zM623.025 225.225h2.925v1.462h-2.925zM628.875 225.225h2.925v1.462h-2.925zM634.725 225.225h2.925v1.462h-2.925zM640.575 225.225h2.925v1.462h-2.925zM589.387 226.688h2.925v1.462h-2.925zM595.237 226.688h2.925v1.462h-2.925zM601.087 226.688h2.925v1.462h-2.925zM606.938 226.688h2.925v1.462h-2.925zM612.787 226.688h2.925v1.462h-2.925zM618.637 226.688h2.925v1.462h-2.925zM624.487 226.688h2.925v1.462h-2.925zM630.337 226.688h2.925v1.462h-2.925zM636.188 226.688h2.925v1.462h-2.925zM590.850 228.150h2.925v1.462h-2.925zM596.700 228.150h2.925v1.462h-2.925zM602.550 228.150h2.925v1.462h-2.925zM608.400 228.150h2.925v1.462h-2.925zM614.250 228.150h2.925v1.462h-2.925zM620.100 228.150h2.925v1.462h-2.925zM625.950 228.150h2.925v1.462h-2.925zM631.800 228.150h2.925v1.462h-2.925zM637.650 228.150h2.925v1.462h-2.925zM586.462 229.612h2.925v1.462h-2.925zM592.312 229.612h2.925v1.462h-2.925zM598.162 229.612h2.925v1.462h-2.925zM604.012 229.612h2.925v1.462h-2.925zM609.862 229.612h2.925v1.462h-2.925zM615.712 229.612h2.925v1.462h-2.925zM621.562 229.612h2.925v1.462h-2.925zM627.412 229.612h2.925v1.462h-2.925zM633.262 229.612h2.925v1.462h-2.925zM639.112 229.612h2.925v1.462h-2.925zM587.925 231.075h2.925v1.462h-2.925zM593.775 231.075h2.925v1.462h-2.925zM599.625 231.075h2.925v1.462h-2.925zM605.475 231.075h2.925v1.462h-2.925zM611.325 231.075h2.925v1.462h-2.925zM617.175 231.075h2.925v1.462h-2.925zM623.025 231.075h2.925v1.462h-2.925zM628.875 231.075h2.925v1.462h-2.925zM634.725 231.075h2.925v1.462h-2.925zM640.575 231.075h2.925v1.462h-2.925zM589.387 232.537h2.925v1.462h-2.925zM595.237 232.537h2.925v1.462h-2.925zM601.087 232.537h2.925v1.462h-2.925zM606.938 232.537h2.925v1.462h-2.925zM612.787 232.537h2.925v1.462h-2.925zM618.637 232.537h2.925v1.462h-2.925zM624.487 232.537h2.925v1.462h-2.925zM630.337 232.537h2.925v1.462h-2.925zM636.188 232.537h2.925v1.462h-2.925zM590.850 234.000h2.925v1.462h-2.925zM596.700 234.000h2.925v1.462h-2.925zM602.550 234.000h2.925v1.462h-2.925zM608.400 234.000h2.925v1.462h-2.925zM614.250 234.000h2.925v1.462h-2.925zM620.100 234.000h2.925v1.462h-2.925zM625.950 234.000h2.925v1.462h-2.925zM631.800 234.000h2.925v1.462h-2.925zM637.650 234.000h2.925v1.462h-2.925zM586.462 235.462h2.925v1.462h-2.925zM592.312 235.462h2.925v1.462h-2.925zM598.162 235.462h2.925v1.462h-2.925zM604.012 235.462h2.925v1.462h-2.925zM609.862 235.462h2.925v1.462h-2.925zM615.712 235.462h2.925v1.462h-2.925zM621.562 235.462h2.925v1.462h-2.925zM627.412 235.462h2.925v1.462h-2.925zM633.262 235.462h2.925v1.462h-2.925zM639.112 235.462h2.925v1.462h-2.925zM587.925 236.925h2.925v1.462h-2.925zM593.775 236.925h2.925v1.462h-2.925zM599.625 236.925h2.925v1.462h-2.925zM605.475 236.925h2.925v1.462h-2.925zM611.325 236.925h2.925v1.462h-2.925zM617.175 236.925h2.925v1.462h-2.925zM623.025 236.925h2.925v1.462h-2.925zM628.875 236.925h2.925v1.462h-2.925zM634.725 236.925h2.925v1.462h-2.925zM640.575 236.925h2.925v1.462h-2.925zM589.387 238.387h2.925v1.462h-2.925zM595.237 238.387h2.925v1.462h-2.925zM601.087 238.387h2.925v1.462h-2.925zM606.938 238.387h2.925v1.462h-2.925zM612.787 238.387h2.925v1.462h-2.925zM618.637 238.387h2.925v1.462h-2.925zM624.487 238.387h2.925v1.462h-2.925zM630.337 238.387h2.925v1.462h-2.925zM636.188 238.387h2.925v1.462h-2.925zM590.850 239.850h2.925v1.462h-2.925zM596.700 239.850h2.925v1.462h-2.925zM602.550 239.850h2.925v1.462h-2.925zM608.400 239.850h2.925v1.462h-2.925zM614.250 239.850h2.925v1.462h-2.925zM620.100 239.850h2.925v1.462h-2.925zM625.950 239.850h2.925v1.462h-2.925zM631.800 239.850h2.925v1.462h-2.925zM637.650 239.850h2.925v1.462h-2.925zM586.462 241.312h2.925v1.462h-2.925zM592.312 241.312h2.925v1.462h-2.925zM598.162 241.312h2.925v1.462h-2.925zM604.012 241.312h2.925v1.462h-2.925zM609.862 241.312h2.925v1.462h-2.925zM615.712 241.312h2.925v1.462h-2.925zM621.562 241.312h2.925v1.462h-2.925zM627.412 241.312h2.925v1.462h-2.925zM633.262 241.312h2.925v1.462h-2.925zM639.112 241.312h2.925v1.462h-2.925zM587.925 242.775h2.925v1.462h-2.925zM593.775 242.775h2.925v1.462h-2.925zM599.625 242.775h2.925v1.462h-2.925zM605.475 242.775h2.925v1.462h-2.925zM611.325 242.775h2.925v1.462h-2.925zM617.175 242.775h2.925v1.462h-2.925zM623.025 242.775h2.925v1.462h-2.925zM628.875 242.775h2.925v1.462h-2.925zM634.725 242.775h2.925v1.462h-2.925zM640.575 242.775h2.925v1.462h-2.925zM589.387 244.237h2.925v1.462h-2.925zM595.237 244.237h2.925v1.462h-2.925zM601.087 244.237h2.925v1.462h-2.925zM606.938 244.237h2.925v1.462h-2.925zM612.787 244.237h2.925v1.462h-2.925zM618.637 244.237h2.925v1.462h-2.925zM624.487 244.237h2.925v1.462h-2.925zM630.337 244.237h2.925v1.462h-2.925zM636.188 244.237h2.925v1.462h-2.925zM590.850 245.700h2.925v1.462h-2.925zM596.700 245.700h2.925v1.462h-2.925zM602.550 245.700h2.925v1.462h-2.925zM608.400 245.700h2.925v1.462h-2.925zM614.250 245.700h2.925v1.462h-2.925zM620.100 245.700h2.925v1.462h-2.925zM625.950 245.700h2.925v1.462h-2.925zM631.800 245.700h2.925v1.462h-2.925zM637.650 245.700h2.925v1.462h-2.925zM586.462 247.162h2.925v1.462h-2.925zM592.312 247.162h2.925v1.462h-2.925zM598.162 247.162h2.925v1.462h-2.925zM604.012 247.162h2.925v1.462h-2.925zM609.862 247.162h2.925v1.462h-2.925zM615.712 247.162h2.925v1.462h-2.925zM621.562 247.162h2.925v1.462h-2.925zM627.412 247.162h2.925v1.462h-2.925zM633.262 247.162h2.925v1.462h-2.925zM639.112 247.162h2.925v1.462h-2.925zM587.925 248.625h2.925v1.462h-2.925zM593.775 248.625h2.925v1.462h-2.925zM599.625 248.625h2.925v1.462h-2.925zM605.475 248.625h2.925v1.462h-2.925zM611.325 248.625h2.925v1.462h-2.925zM617.175 248.625h2.925v1.462h-2.925zM623.025 248.625h2.925v1.462h-2.925zM628.875 248.625h2.925v1.462h-2.925zM634.725 248.625h2.925v1.462h-2.925zM640.575 248.625h2.925v1.462h-2.925zM589.387 250.087h2.925v1.462h-2.925zM595.237 250.087h2.925v1.462h-2.925zM601.087 250.087h2.925v1.462h-2.925zM606.938 250.087h2.925v1.462h-2.925zM612.787 250.087h2.925v1.462h-2.925zM618.637 250.087h2.925v1.462h-2.925zM624.487 250.087h2.925v1.462h-2.925zM630.337 250.087h2.925v1.462h-2.925zM636.188 250.087h2.925v1.462h-2.925zM590.850 251.550h2.925v1.462h-2.925zM596.700 251.550h2.925v1.462h-2.925zM602.550 251.550h2.925v1.462h-2.925zM608.400 251.550h2.925v1.462h-2.925zM614.250 251.550h2.925v1.462h-2.925zM620.100 251.550h2.925v1.462h-2.925zM625.950 251.550h2.925v1.462h-2.925zM631.800 251.550h2.925v1.462h-2.925zM637.650 251.550h2.925v1.462h-2.925zM586.462 253.012h2.925v1.462h-2.925zM592.312 253.012h2.925v1.462h-2.925zM598.162 253.012h2.925v1.462h-2.925zM604.012 253.012h2.925v1.462h-2.925zM609.862 253.012h2.925v1.462h-2.925zM615.712 253.012h2.925v1.462h-2.925zM621.562 253.012h2.925v1.462h-2.925zM627.412 253.012h2.925v1.462h-2.925zM633.262 253.012h2.925v1.462h-2.925zM639.112 253.012h2.925v1.462h-2.925zM587.925 254.475h2.925v1.462h-2.925zM593.775 254.475h2.925v1.462h-2.925zM599.625 254.475h2.925v1.462h-2.925zM605.475 254.475h2.925v1.462h-2.925zM611.325 254.475h2.925v1.462h-2.925zM617.175 254.475h2.925v1.462h-2.925zM623.025 254.475h2.925v1.462h-2.925zM628.875 254.475h2.925v1.462h-2.925zM634.725 254.475h2.925v1.462h-2.925zM640.575 254.475h2.925v1.462h-2.925zM589.387 255.937h2.925v1.462h-2.925zM595.237 255.937h2.925v1.462h-2.925zM601.087 255.937h2.925v1.462h-2.925zM606.938 255.937h2.925v1.462h-2.925zM612.787 255.937h2.925v1.462h-2.925zM618.637 255.937h2.925v1.462h-2.925zM624.487 255.937h2.925v1.462h-2.925zM630.337 255.937h2.925v1.462h-2.925zM636.188 255.937h2.925v1.462h-2.925zM590.850 257.400h2.925v1.462h-2.925zM596.700 257.400h2.925v1.462h-2.925zM602.550 257.400h2.925v1.462h-2.925zM608.400 257.400h2.925v1.462h-2.925zM614.250 257.400h2.925v1.462h-2.925zM620.100 257.400h2.925v1.462h-2.925zM625.950 257.400h2.925v1.462h-2.925zM631.800 257.400h2.925v1.462h-2.925zM637.650 257.400h2.925v1.462h-2.925zM586.462 258.863h2.925v1.462h-2.925zM592.312 258.863h2.925v1.462h-2.925zM598.162 258.863h2.925v1.462h-2.925zM604.012 258.863h2.925v1.462h-2.925zM609.862 258.863h2.925v1.462h-2.925zM615.712 258.863h2.925v1.462h-2.925zM621.562 258.863h2.925v1.462h-2.925zM627.412 258.863h2.925v1.462h-2.925zM633.262 258.863h2.925v1.462h-2.925zM639.112 258.863h2.925v1.462h-2.925zM587.925 260.325h2.925v1.462h-2.925zM593.775 260.325h2.925v1.462h-2.925zM599.625 260.325h2.925v1.462h-2.925zM605.475 260.325h2.925v1.462h-2.925zM611.325 260.325h2.925v1.462h-2.925zM617.175 260.325h2.925v1.462h-2.925zM623.025 260.325h2.925v1.462h-2.925zM628.875 260.325h2.925v1.462h-2.925zM634.725 260.325h2.925v1.462h-2.925zM640.575 260.325h2.925v1.462h-2.925zM589.387 261.787h2.925v1.462h-2.925zM595.237 261.787h2.925v1.462h-2.925zM601.087 261.787h2.925v1.462h-2.925zM606.938 261.787h2.925v1.462h-2.925zM612.787 261.787h2.925v1.462h-2.925zM618.637 261.787h2.925v1.462h-2.925zM624.487 261.787h2.925v1.462h-2.925zM630.337 261.787h2.925v1.462h-2.925zM636.188 261.787h2.925v1.462h-2.925zM590.850 263.250h2.925v1.462h-2.925zM596.700 263.250h2.925v1.462h-2.925zM602.550 263.250h2.925v1.462h-2.925zM608.400 263.250h2.925v1.462h-2.925zM614.250 263.250h2.925v1.462h-2.925zM620.100 263.250h2.925v1.462h-2.925zM625.950 263.250h2.925v1.462h-2.925zM631.800 263.250h2.925v1.462h-2.925zM637.650 263.250h2.925v1.462h-2.925zM586.462 264.712h2.925v1.462h-2.925zM592.312 264.712h2.925v1.462h-2.925zM598.162 264.712h2.925v1.462h-2.925zM604.012 264.712h2.925v1.462h-2.925zM609.862 264.712h2.925v1.462h-2.925zM615.712 264.712h2.925v1.462h-2.925zM621.562 264.712h2.925v1.462h-2.925zM627.412 264.712h2.925v1.462h-2.925zM633.262 264.712h2.925v1.462h-2.925zM639.112 264.712h2.925v1.462h-2.925zM587.925 266.175h2.925v1.462h-2.925zM593.775 266.175h2.925v1.462h-2.925zM599.625 266.175h2.925v1.462h-2.925zM605.475 266.175h2.925v1.462h-2.925zM611.325 266.175h2.925v1.462h-2.925zM617.175 266.175h2.925v1.462h-2.925zM623.025 266.175h2.925v1.462h-2.925zM628.875 266.175h2.925v1.462h-2.925zM634.725 266.175h2.925v1.462h-2.925zM640.575 266.175h2.925v1.462h-2.925zM589.387 267.637h2.925v1.462h-2.925zM595.237 267.637h2.925v1.462h-2.925zM601.087 267.637h2.925v1.462h-2.925zM606.938 267.637h2.925v1.462h-2.925zM612.787 267.637h2.925v1.462h-2.925zM618.637 267.637h2.925v1.462h-2.925zM624.487 267.637h2.925v1.462h-2.925zM630.337 267.637h2.925v1.462h-2.925zM636.188 267.637h2.925v1.462h-2.925zM590.850 269.100h2.925v1.462h-2.925zM596.700 269.100h2.925v1.462h-2.925zM602.550 269.100h2.925v1.462h-2.925zM608.400 269.100h2.925v1.462h-2.925zM614.250 269.100h2.925v1.462h-2.925zM620.100 269.100h2.925v1.462h-2.925zM625.950 269.100h2.925v1.462h-2.925zM631.800 269.100h2.925v1.462h-2.925zM637.650 269.100h2.925v1.462h-2.925zM586.462 270.562h2.925v1.462h-2.925zM592.312 270.562h2.925v1.462h-2.925zM598.162 270.562h2.925v1.462h-2.925zM604.012 270.562h2.925v1.462h-2.925zM609.862 270.562h2.925v1.462h-2.925zM615.712 270.562h2.925v1.462h-2.925zM621.562 270.562h2.925v1.462h-2.925zM627.412 270.562h2.925v1.462h-2.925zM633.262 270.562h2.925v1.462h-2.925zM639.112 270.562h2.925v1.462h-2.925zM587.925 272.025h2.925v1.462h-2.925zM593.775 272.025h2.925v1.462h-2.925zM599.625 272.025h2.925v1.462h-2.925zM605.475 272.025h2.925v1.462h-2.925zM611.325 272.025h2.925v1.462h-2.925zM617.175 272.025h2.925v1.462h-2.925zM623.025 272.025h2.925v1.462h-2.925zM628.875 272.025h2.925v1.462h-2.925zM634.725 272.025h2.925v1.462h-2.925zM640.575 272.025h2.925v1.462h-2.925zM589.387 273.488h2.925v1.462h-2.925zM595.237 273.488h2.925v1.462h-2.925zM601.087 273.488h2.925v1.462h-2.925zM606.938 273.488h2.925v1.462h-2.925zM612.787 273.488h2.925v1.462h-2.925zM618.637 273.488h2.925v1.462h-2.925zM624.487 273.488h2.925v1.462h-2.925zM630.337 273.488h2.925v1.462h-2.925zM636.188 273.488h2.925v1.462h-2.925zM590.850 274.950h2.925v1.462h-2.925zM596.700 274.950h2.925v1.462h-2.925zM602.550 274.950h2.925v1.462h-2.925zM608.400 274.950h2.925v1.462h-2.925zM614.250 274.950h2.925v1.462h-2.925zM620.100 274.950h2.925v1.462h-2.925zM625.950 274.950h2.925v1.462h-2.925zM631.800 274.950h2.925v1.462h-2.925zM637.650 274.950h2.925v1.462h-2.925zM586.462 276.412h2.925v1.462h-2.925zM592.312 276.412h2.925v1.462h-2.925zM598.162 276.412h2.925v1.462h-2.925zM604.012 276.412h2.925v1.462h-2.925zM609.862 276.412h2.925v1.462h-2.925zM615.712 276.412h2.925v1.462h-2.925zM621.562 276.412h2.925v1.462h-2.925zM627.412 276.412h2.925v1.462h-2.925zM633.262 276.412h2.925v1.462h-2.925zM639.112 276.412h2.925v1.462h-2.925zM587.925 277.875h2.925v1.462h-2.925zM593.775 277.875h2.925v1.462h-2.925zM599.625 277.875h2.925v1.462h-2.925zM605.475 277.875h2.925v1.462h-2.925zM611.325 277.875h2.925v1.462h-2.925zM617.175 277.875h2.925v1.462h-2.925zM623.025 277.875h2.925v1.462h-2.925zM628.875 277.875h2.925v1.462h-2.925zM634.725 277.875h2.925v1.462h-2.925zM640.575 277.875h2.925v1.462h-2.925zM589.387 279.337h2.925v1.462h-2.925zM595.237 279.337h2.925v1.462h-2.925zM601.087 279.337h2.925v1.462h-2.925zM606.938 279.337h2.925v1.462h-2.925zM612.787 279.337h2.925v1.462h-2.925zM618.637 279.337h2.925v1.462h-2.925zM624.487 279.337h2.925v1.462h-2.925zM630.337 279.337h2.925v1.462h-2.925zM636.188 279.337h2.925v1.462h-2.925zM590.850 280.800h2.925v1.462h-2.925zM596.700 280.800h2.925v1.462h-2.925zM602.550 280.800h2.925v1.462h-2.925zM608.400 280.800h2.925v1.462h-2.925zM614.250 280.800h2.925v1.462h-2.925zM620.100 280.800h2.925v1.462h-2.925zM625.950 280.800h2.925v1.462h-2.925zM631.800 280.800h2.925v1.462h-2.925zM637.650 280.800h2.925v1.462h-2.925zM586.462 282.262h2.925v1.462h-2.925zM592.312 282.262h2.925v1.462h-2.925zM598.162 282.262h2.925v1.462h-2.925zM604.012 282.262h2.925v1.462h-2.925zM609.862 282.262h2.925v1.462h-2.925zM615.712 282.262h2.925v1.462h-2.925zM621.562 282.262h2.925v1.462h-2.925zM627.412 282.262h2.925v1.462h-2.925zM633.262 282.262h2.925v1.462h-2.925zM639.112 282.262h2.925v1.462h-2.925zM587.925 283.725h2.925v1.462h-2.925zM593.775 283.725h2.925v1.462h-2.925zM599.625 283.725h2.925v1.462h-2.925zM605.475 283.725h2.925v1.462h-2.925zM611.325 283.725h2.925v1.462h-2.925zM617.175 283.725h2.925v1.462h-2.925zM623.025 283.725h2.925v1.462h-2.925zM628.875 283.725h2.925v1.462h-2.925zM634.725 283.725h2.925v1.462h-2.925zM640.575 283.725h2.925v1.462h-2.925zM589.387 285.188h2.925v1.462h-2.925zM595.237 285.188h2.925v1.462h-2.925zM601.087 285.188h2.925v1.462h-2.925zM606.938 285.188h2.925v1.462h-2.925zM612.787 285.188h2.925v1.462h-2.925zM618.637 285.188h2.925v1.462h-2.925zM624.487 285.188h2.925v1.462h-2.925zM630.337 285.188h2.925v1.462h-2.925zM636.188 285.188h2.925v1.462h-2.925zM590.850 286.650h2.925v1.462h-2.925zM596.700 286.650h2.925v1.462h-2.925zM602.550 286.650h2.925v1.462h-2.925zM608.400 286.650h2.925v1.462h-2.925zM614.250 286.650h2.925v1.462h-2.925zM620.100 286.650h2.925v1.462h-2.925zM625.950 286.650h2.925v1.462h-2.925zM631.800 286.650h2.925v1.462h-2.925zM637.650 286.650h2.925v1.462h-2.925zM586.462 288.112h2.925v1.462h-2.925zM592.312 288.112h2.925v1.462h-2.925zM598.162 288.112h2.925v1.462h-2.925zM604.012 288.112h2.925v1.462h-2.925zM609.862 288.112h2.925v1.462h-2.925zM615.712 288.112h2.925v1.462h-2.925zM621.562 288.112h2.925v1.462h-2.925zM627.412 288.112h2.925v1.462h-2.925zM633.262 288.112h2.925v1.462h-2.925zM639.112 288.112h2.925v1.462h-2.925zM587.925 289.575h2.925v1.462h-2.925zM593.775 289.575h2.925v1.462h-2.925zM599.625 289.575h2.925v1.462h-2.925zM605.475 289.575h2.925v1.462h-2.925zM611.325 289.575h2.925v1.462h-2.925zM617.175 289.575h2.925v1.462h-2.925zM623.025 289.575h2.925v1.462h-2.925zM628.875 289.575h2.925v1.462h-2.925zM634.725 289.575h2.925v1.462h-2.925zM640.575 289.575h2.925v1.462h-2.925zM589.387 291.037h2.925v1.462h-2.925zM595.237 291.037h2.925v1.462h-2.925zM601.087 291.037h2.925v1.462h-2.925zM606.938 291.037h2.925v1.462h-2.925zM612.787 291.037h2.925v1.462h-2.925zM618.637 291.037h2.925v1.462h-2.925zM624.487 291.037h2.925v1.462h-2.925zM630.337 291.037h2.925v1.462h-2.925zM636.188 291.037h2.925v1.462h-2.925zM590.850 292.500h2.925v1.462h-2.925zM596.700 292.500h2.925v1.462h-2.925zM602.550 292.500h2.925v1.462h-2.925zM608.400 292.500h2.925v1.462h-2.925zM614.250 292.500h2.925v1.462h-2.925zM620.100 292.500h2.925v1.462h-2.925zM625.950 292.500h2.925v1.462h-2.925zM631.800 292.500h2.925v1.462h-2.925zM637.650 292.500h2.925v1.462h-2.925zM586.462 293.962h2.925v1.462h-2.925zM592.312 293.962h2.925v1.462h-2.925zM598.162 293.962h2.925v1.462h-2.925zM604.012 293.962h2.925v1.462h-2.925zM609.862 293.962h2.925v1.462h-2.925zM615.712 293.962h2.925v1.462h-2.925zM621.562 293.962h2.925v1.462h-2.925zM627.412 293.962h2.925v1.462h-2.925zM633.262 293.962h2.925v1.462h-2.925zM639.112 293.962h2.925v1.462h-2.925zM587.925 295.425h2.925v1.462h-2.925zM593.775 295.425h2.925v1.462h-2.925zM599.625 295.425h2.925v1.462h-2.925zM605.475 295.425h2.925v1.462h-2.925zM611.325 295.425h2.925v1.462h-2.925zM617.175 295.425h2.925v1.462h-2.925zM623.025 295.425h2.925v1.462h-2.925zM628.875 295.425h2.925v1.462h-2.925zM634.725 295.425h2.925v1.462h-2.925zM640.575 295.425h2.925v1.462h-2.925zM589.387 296.887h2.925v1.462h-2.925zM595.237 296.887h2.925v1.462h-2.925zM601.087 296.887h2.925v1.462h-2.925zM606.938 296.887h2.925v1.462h-2.925zM612.787 296.887h2.925v1.462h-2.925zM618.637 296.887h2.925v1.462h-2.925zM624.487 296.887h2.925v1.462h-2.925zM630.337 296.887h2.925v1.462h-2.925zM636.188 296.887h2.925v1.462h-2.925zM590.850 298.350h2.925v1.462h-2.925zM596.700 298.350h2.925v1.462h-2.925zM602.550 298.350h2.925v1.462h-2.925zM608.400 298.350h2.925v1.462h-2.925zM614.250 298.350h2.925v1.462h-2.925zM620.100 298.350h2.925v1.462h-2.925zM625.950 298.350h2.925v1.462h-2.925zM631.800 298.350h2.925v1.462h-2.925zM637.650 298.350h2.925v1.462h-2.925zM586.462 299.812h2.925v1.462h-2.925zM592.312 299.812h2.925v1.462h-2.925zM598.162 299.812h2.925v1.462h-2.925zM604.012 299.812h2.925v1.462h-2.925zM609.862 299.812h2.925v1.462h-2.925zM615.712 299.812h2.925v1.462h-2.925zM621.562 299.812h2.925v1.462h-2.925zM627.412 299.812h2.925v1.462h-2.925zM633.262 299.812h2.925v1.462h-2.925zM639.112 299.812h2.925v1.462h-2.925zM587.925 301.275h2.925v1.462h-2.925zM593.775 301.275h2.925v1.462h-2.925zM599.625 301.275h2.925v1.462h-2.925zM605.475 301.275h2.925v1.462h-2.925zM611.325 301.275h2.925v1.462h-2.925zM617.175 301.275h2.925v1.462h-2.925zM623.025 301.275h2.925v1.462h-2.925zM628.875 301.275h2.925v1.462h-2.925zM634.725 301.275h2.925v1.462h-2.925zM640.575 301.275h2.925v1.462h-2.925zM589.387 302.737h2.925v1.462h-2.925zM595.237 302.737h2.925v1.462h-2.925zM601.087 302.737h2.925v1.462h-2.925zM606.938 302.737h2.925v1.462h-2.925zM612.787 302.737h2.925v1.462h-2.925zM618.637 302.737h2.925v1.462h-2.925zM624.487 302.737h2.925v1.462h-2.925zM630.337 302.737h2.925v1.462h-2.925zM636.188 302.737h2.925v1.462h-2.925zM590.850 304.200h2.925v1.462h-2.925zM596.700 304.200h2.925v1.462h-2.925zM602.550 304.200h2.925v1.462h-2.925zM608.400 304.200h2.925v1.462h-2.925zM614.250 304.200h2.925v1.462h-2.925zM620.100 304.200h2.925v1.462h-2.925zM625.950 304.200h2.925v1.462h-2.925zM631.800 304.200h2.925v1.462h-2.925zM637.650 304.200h2.925v1.462h-2.925zM586.462 305.662h2.925v1.462h-2.925zM592.312 305.662h2.925v1.462h-2.925zM598.162 305.662h2.925v1.462h-2.925zM604.012 305.662h2.925v1.462h-2.925zM609.862 305.662h2.925v1.462h-2.925zM615.712 305.662h2.925v1.462h-2.925zM621.562 305.662h2.925v1.462h-2.925zM627.412 305.662h2.925v1.462h-2.925zM633.262 305.662h2.925v1.462h-2.925zM639.112 305.662h2.925v1.462h-2.925zM587.925 307.125h2.925v1.462h-2.925zM593.775 307.125h2.925v1.462h-2.925zM599.625 307.125h2.925v1.462h-2.925zM605.475 307.125h2.925v1.462h-2.925zM611.325 307.125h2.925v1.462h-2.925zM617.175 307.125h2.925v1.462h-2.925zM623.025 307.125h2.925v1.462h-2.925zM628.875 307.125h2.925v1.462h-2.925zM634.725 307.125h2.925v1.462h-2.925zM640.575 307.125h2.925v1.462h-2.925zM589.387 308.587h2.925v1.462h-2.925zM595.237 308.587h2.925v1.462h-2.925zM601.087 308.587h2.925v1.462h-2.925zM606.938 308.587h2.925v1.462h-2.925zM612.787 308.587h2.925v1.462h-2.925zM618.637 308.587h2.925v1.462h-2.925zM624.487 308.587h2.925v1.462h-2.925zM630.337 308.587h2.925v1.462h-2.925zM636.188 308.587h2.925v1.462h-2.925zM590.850 310.050h2.925v1.462h-2.925zM596.700 310.050h2.925v1.462h-2.925zM602.550 310.050h2.925v1.462h-2.925zM608.400 310.050h2.925v1.462h-2.925zM614.250 310.050h2.925v1.462h-2.925zM620.100 310.050h2.925v1.462h-2.925zM625.950 310.050h2.925v1.462h-2.925zM631.800 310.050h2.925v1.462h-2.925zM637.650 310.050h2.925v1.462h-2.925zM586.462 311.512h2.925v1.462h-2.925zM592.312 311.512h2.925v1.462h-2.925zM598.162 311.512h2.925v1.462h-2.925zM604.012 311.512h2.925v1.462h-2.925zM609.862 311.512h2.925v1.462h-2.925zM615.712 311.512h2.925v1.462h-2.925zM621.562 311.512h2.925v1.462h-2.925zM627.412 311.512h2.925v1.462h-2.925zM633.262 311.512h2.925v1.462h-2.925zM639.112 311.512h2.925v1.462h-2.925zM587.925 312.975h2.925v1.462h-2.925zM593.775 312.975h2.925v1.462h-2.925zM599.625 312.975h2.925v1.462h-2.925zM605.475 312.975h2.925v1.462h-2.925zM611.325 312.975h2.925v1.462h-2.925zM617.175 312.975h2.925v1.462h-2.925zM623.025 312.975h2.925v1.462h-2.925zM628.875 312.975h2.925v1.462h-2.925zM634.725 312.975h2.925v1.462h-2.925zM640.575 312.975h2.925v1.462h-2.925zM589.387 314.438h2.925v1.462h-2.925zM595.237 314.438h2.925v1.462h-2.925zM601.087 314.438h2.925v1.462h-2.925zM606.938 314.438h2.925v1.462h-2.925zM612.787 314.438h2.925v1.462h-2.925zM618.637 314.438h2.925v1.462h-2.925zM624.487 314.438h2.925v1.462h-2.925zM630.337 314.438h2.925v1.462h-2.925zM636.188 314.438h2.925v1.462h-2.925zM590.850 315.900h2.925v1.462h-2.925zM596.700 315.900h2.925v1.462h-2.925zM602.550 315.900h2.925v1.462h-2.925zM608.400 315.900h2.925v1.462h-2.925zM614.250 315.900h2.925v1.462h-2.925zM620.100 315.900h2.925v1.462h-2.925zM625.950 315.900h2.925v1.462h-2.925zM631.800 315.900h2.925v1.462h-2.925zM637.650 315.900h2.925v1.462h-2.925zM586.462 317.362h2.925v1.462h-2.925zM592.312 317.362h2.925v1.462h-2.925zM598.162 317.362h2.925v1.462h-2.925zM604.012 317.362h2.925v1.462h-2.925zM609.862 317.362h2.925v1.462h-2.925zM615.712 317.362h2.925v1.462h-2.925zM621.562 317.362h2.925v1.462h-2.925zM627.412 317.362h2.925v1.462h-2.925zM633.262 317.362h2.925v1.462h-2.925zM639.112 317.362h2.925v1.462h-2.925zM587.925 318.825h2.925v1.462h-2.925zM593.775 318.825h2.925v1.462h-2.925zM599.625 318.825h2.925v1.462h-2.925zM605.475 318.825h2.925v1.462h-2.925zM611.325 318.825h2.925v1.462h-2.925zM617.175 318.825h2.925v1.462h-2.925zM623.025 318.825h2.925v1.462h-2.925zM628.875 318.825h2.925v1.462h-2.925zM634.725 318.825h2.925v1.462h-2.925zM640.575 318.825h2.925v1.462h-2.925z"/>
<rect x="593.75" y="99.90" width="41.30" height="218.10" fill="none" stroke="#000" stroke-width="1.9"/>
<path d="M164.20 260.85H173.20M168.70 260.85V269.5M164.20 269.5H173.20" stroke="#000" stroke-width="1.8" fill="none"/>
<path d="M216.60 281.1H225.60M221.10 281.1V286.7M216.60 286.7H225.60" stroke="#000" stroke-width="1.8" fill="none"/>
<path d="M452.70 197.0H461.70M457.20 197.0V208.4M452.70 208.4H461.70" stroke="#000" stroke-width="1.8" fill="none"/>
<path d="M505.10 195.9H514.10M509.60 195.9V214.0M505.10 214.0H514.10" stroke="#000" stroke-width="1.8" fill="none"/>
<path d="M557.50 77.6H566.50M562.00 77.6V101.95M557.50 101.95H566.50" stroke="#000" stroke-width="1.8" fill="none"/>
<path d="M609.90 90.05H618.90M614.40 90.05V109.65M609.90 109.65H618.90" stroke="#000" stroke-width="1.8" fill="none"/>
<rect x="268.8" y="270.2" width="9.1" height="5.8" fill="#000"/>
<rect x="321" y="287.9" width="9.6" height="5.6" fill="#000"/>
<text x="164.05" y="248.9" font-size="21.5" font-weight="normal" font-style="normal" textLength="10.22" lengthAdjust="spacingAndGlyphs" xml:space="preserve">a</text>
<text x="209.07" y="271.8" font-size="21.5" font-weight="normal" font-style="normal" textLength="12.97" lengthAdjust="spacingAndGlyphs" xml:space="preserve">b</text>
<text x="227.69" y="271.8" font-size="21.5" font-weight="normal" font-style="normal" textLength="9.76" lengthAdjust="spacingAndGlyphs" xml:space="preserve">c</text>
<text x="259.91" y="264.3" font-size="21.5" font-weight="normal" font-style="normal" textLength="9.46" lengthAdjust="spacingAndGlyphs" xml:space="preserve">a</text>
<text x="276.75" y="264.3" font-size="21.5" font-weight="normal" font-style="normal" textLength="12.34" lengthAdjust="spacingAndGlyphs" xml:space="preserve">b</text>
<text x="320.12" y="281.2" font-size="21.5" font-weight="normal" font-style="normal" textLength="9.41" lengthAdjust="spacingAndGlyphs" xml:space="preserve">c</text>
<text x="450.61" y="187.5" font-size="21.5" font-weight="normal" font-style="normal" textLength="13.09" lengthAdjust="spacingAndGlyphs" xml:space="preserve">d</text>
<text x="499.55" y="187.5" font-size="21.5" font-weight="normal" font-style="normal" textLength="13.72" lengthAdjust="spacingAndGlyphs" xml:space="preserve">d</text>
<text x="553.56" y="68.3" font-size="21.5" font-weight="normal" font-style="normal" textLength="12.44" lengthAdjust="spacingAndGlyphs" xml:space="preserve">e</text>
<text x="609.49" y="81.5" font-size="21.5" font-weight="normal" font-style="normal" textLength="12.08" lengthAdjust="spacingAndGlyphs" xml:space="preserve">e</text>
<text x="166.81" y="356.5" font-size="22.4" font-weight="bold" font-style="italic" textLength="71.14" lengthAdjust="spacingAndGlyphs" xml:space="preserve">Cu-Oxy</text>
<text x="243.56" y="356.5" font-size="22.4" font-weight="bold" font-style="italic" textLength="17.54" lengthAdjust="spacingAndGlyphs" xml:space="preserve">in</text>
<text x="268.00" y="356.5" font-size="22.4" font-weight="bold" font-style="italic" textLength="58.71" lengthAdjust="spacingAndGlyphs" xml:space="preserve">water</text>
<text x="469.60" y="356.5" font-size="22.4" font-weight="bold" font-style="italic" textLength="71.34" lengthAdjust="spacingAndGlyphs" xml:space="preserve">Cu-Oxy</text>
<text x="552.34" y="356.5" font-size="22.4" font-weight="bold" font-style="italic" textLength="18.18" lengthAdjust="spacingAndGlyphs" xml:space="preserve">in</text>
<text x="576.90" y="356.5" font-size="22.4" font-weight="bold" font-style="italic" textLength="24.59" lengthAdjust="spacingAndGlyphs" xml:space="preserve">BS</text>
<text x="4.12" y="21.3" font-size="24" font-weight="bold" font-style="normal" textLength="10.36" lengthAdjust="spacingAndGlyphs" xml:space="preserve">a</text>
<text x="17.50" y="21.3" font-size="24" font-weight="bold" font-style="normal" textLength="6.99" lengthAdjust="spacingAndGlyphs" xml:space="preserve">)</text>
<text transform="translate(27.1,238.3) rotate(-90)" x="-0.86" y="0" font-size="24" font-weight="bold" font-style="normal" textLength="27.44" lengthAdjust="spacingAndGlyphs" xml:space="preserve">Cu</text>
<text transform="translate(27.1,204.2) rotate(-90)" x="-0.96" y="0" font-size="24" font-weight="bold" font-style="normal" textLength="82.81" lengthAdjust="spacingAndGlyphs" xml:space="preserve">content</text>
<text transform="translate(27.1,113.5) rotate(-90)" x="-1.18" y="0" font-size="24" font-weight="bold" font-style="normal" textLength="35.34" lengthAdjust="spacingAndGlyphs" xml:space="preserve">(%)</text>
<rect x="17.65" y="388.85" width="10.40" height="10.10" fill="#548235" stroke="#000" stroke-width="1.9"/>
<text x="33.33" y="400.0" font-size="18.6" font-weight="bold" font-style="normal" textLength="47.72" lengthAdjust="spacingAndGlyphs" xml:space="preserve">Citrus</text>
<text x="85.76" y="400.0" font-size="18.6" font-weight="bold" font-style="normal" textLength="31.89" lengthAdjust="spacingAndGlyphs" xml:space="preserve">leaf</text>
<rect x="139.85" y="388.85" width="11.30" height="10.10" fill="url(#hgl)" stroke="#000" stroke-width="1.9"/>
<text x="155.73" y="400.0" font-size="18.6" font-weight="bold" font-style="normal" textLength="47.92" lengthAdjust="spacingAndGlyphs" xml:space="preserve">Citrus</text>
<text x="208.27" y="400.0" font-size="18.6" font-weight="bold" font-style="normal" textLength="31.58" lengthAdjust="spacingAndGlyphs" xml:space="preserve">leaf</text>
<text x="245.56" y="400.0" font-size="18.6" font-weight="bold" font-style="normal" textLength="76.15" lengthAdjust="spacingAndGlyphs" xml:space="preserve">(washed)</text>
<rect x="344.25" y="388.85" width="11.70" height="10.30" fill="#ED7D31" stroke="#000" stroke-width="1.9"/>
<text x="361.16" y="400.0" font-size="18.6" font-weight="bold" font-style="normal" textLength="64.30" lengthAdjust="spacingAndGlyphs" xml:space="preserve">Tomato</text>
<text x="429.88" y="400.0" font-size="18.6" font-weight="bold" font-style="normal" textLength="31.37" lengthAdjust="spacingAndGlyphs" xml:space="preserve">leaf</text>
<rect x="484.05" y="388.85" width="10.70" height="10.30" fill="url(#hol)" stroke="#000" stroke-width="1.9"/>
<text x="499.75" y="400.0" font-size="18.6" font-weight="bold" font-style="normal" textLength="65.52" lengthAdjust="spacingAndGlyphs" xml:space="preserve">Tomato</text>
<text x="568.86" y="400.0" font-size="18.6" font-weight="bold" font-style="normal" textLength="31.68" lengthAdjust="spacingAndGlyphs" xml:space="preserve">leaf</text>
<text x="606.16" y="400.0" font-size="18.6" font-weight="bold" font-style="normal" textLength="75.95" lengthAdjust="spacingAndGlyphs" xml:space="preserve">(washed)</text>
<path d="M96 500.0H103V804.1" fill="none" stroke="#000" stroke-width="1.8" stroke-linejoin="round"/>
<line x1="96" y1="500.0" x2="103" y2="500.0" stroke="#000" stroke-width="1.8"/>
<line x1="96" y1="549.4333333333334" x2="103" y2="549.4333333333334" stroke="#000" stroke-width="1.8"/>
<line x1="96" y1="598.8666666666667" x2="103" y2="598.8666666666667" stroke="#000" stroke-width="1.8"/>
<line x1="96" y1="648.3" x2="103" y2="648.3" stroke="#000" stroke-width="1.8"/>
<line x1="96" y1="697.7333333333333" x2="103" y2="697.7333333333333" stroke="#000" stroke-width="1.8"/>
<line x1="96" y1="747.1666666666666" x2="103" y2="747.1666666666666" stroke="#000" stroke-width="1.8"/>
<line x1="96" y1="796.6" x2="103" y2="796.6" stroke="#000" stroke-width="1.8"/>
<path d="M96 796.6H678V804.1" fill="none" stroke="#000" stroke-width="1.8" stroke-linejoin="round"/>
<line x1="390" y1="796.6" x2="390" y2="804.1" stroke="#000" stroke-width="1.8"/>
<text x="48.68" y="506.7" font-size="21" font-weight="bold" font-style="normal" textLength="34.30" lengthAdjust="spacingAndGlyphs" xml:space="preserve">120</text>
<text x="48.68" y="556.13" font-size="21" font-weight="bold" font-style="normal" textLength="34.30" lengthAdjust="spacingAndGlyphs" xml:space="preserve">100</text>
<text x="59.03" y="605.57" font-size="21" font-weight="bold" font-style="normal" textLength="24.06" lengthAdjust="spacingAndGlyphs" xml:space="preserve">80</text>
<text x="59.03" y="655.0" font-size="21" font-weight="bold" font-style="normal" textLength="24.06" lengthAdjust="spacingAndGlyphs" xml:space="preserve">60</text>
<text x="59.55" y="704.43" font-size="21" font-weight="bold" font-style="normal" textLength="23.52" lengthAdjust="spacingAndGlyphs" xml:space="preserve">40</text>
<text x="59.03" y="753.87" font-size="21" font-weight="bold" font-style="normal" textLength="24.06" lengthAdjust="spacingAndGlyphs" xml:space="preserve">20</text>
<text x="70.59" y="803.3" font-size="21" font-weight="bold" font-style="normal" textLength="12.61" lengthAdjust="spacingAndGlyphs" xml:space="preserve">0</text>
<rect x="173.55" y="639.35" width="64.10" height="157.25" fill="#00B050" stroke="#000" stroke-width="1.8"/>
<rect x="255.45" y="645.40" width="64.10" height="151.20" fill="#ED7D31" stroke="#000" stroke-width="1.8"/>
<rect x="461.05" y="554.30" width="64.10" height="242.30" fill="#00B050" stroke="#000" stroke-width="1.8"/>
<rect x="542.95" y="560.60" width="64.10" height="236.00" fill="#ED7D31" stroke="#000" stroke-width="1.8"/>
<path d="M200.95 625.0H210.25M205.60 625.0V654.15M200.95 654.15H210.25" stroke="#000" stroke-width="1.8" fill="none"/>
<path d="M282.85 633.8H292.15M287.50 633.8V655.9M282.85 655.9H292.15" stroke="#000" stroke-width="1.8" fill="none"/>
<path d="M488.45 535.0H497.75M493.10 535.0V573.7M488.45 573.7H497.75" stroke="#000" stroke-width="1.8" fill="none"/>
<path d="M570.35 549.4H579.65M575.00 549.4V570.9M570.35 570.9H579.65" stroke="#000" stroke-width="1.8" fill="none"/>
<text x="201.67" y="615.9" font-size="21.5" font-weight="normal" font-style="normal" textLength="11.09" lengthAdjust="spacingAndGlyphs" xml:space="preserve">a</text>
<text x="282.06" y="621.9" font-size="21.5" font-weight="normal" font-style="normal" textLength="10.00" lengthAdjust="spacingAndGlyphs" xml:space="preserve">a</text>
<text x="486.83" y="524.7" font-size="21.5" font-weight="normal" font-style="normal" textLength="14.10" lengthAdjust="spacingAndGlyphs" xml:space="preserve">b</text>
<text x="565.16" y="538.0" font-size="21.5" font-weight="normal" font-style="normal" textLength="13.09" lengthAdjust="spacingAndGlyphs" xml:space="preserve">b</text>
<text x="166.11" y="835.2" font-size="22.4" font-weight="bold" font-style="italic" textLength="71.24" lengthAdjust="spacingAndGlyphs" xml:space="preserve">Cu-Oxy</text>
<text x="242.36" y="835.2" font-size="22.4" font-weight="bold" font-style="italic" textLength="17.54" lengthAdjust="spacingAndGlyphs" xml:space="preserve">in</text>
<text x="266.89" y="835.2" font-size="22.4" font-weight="bold" font-style="italic" textLength="59.01" lengthAdjust="spacingAndGlyphs" xml:space="preserve">water</text>
<text x="471.42" y="835.2" font-size="22.4" font-weight="bold" font-style="italic" textLength="70.13" lengthAdjust="spacingAndGlyphs" xml:space="preserve">Cu-Oxy</text>
<text x="548.26" y="835.2" font-size="22.4" font-weight="bold" font-style="italic" textLength="17.54" lengthAdjust="spacingAndGlyphs" xml:space="preserve">in</text>
<text x="572.20" y="835.2" font-size="22.4" font-weight="bold" font-style="italic" textLength="24.69" lengthAdjust="spacingAndGlyphs" xml:space="preserve">BS</text>
<text x="3.66" y="479.5" font-size="24" font-weight="bold" font-style="normal" textLength="14.12" lengthAdjust="spacingAndGlyphs" xml:space="preserve">b</text>
<text x="19.00" y="479.5" font-size="24" font-weight="bold" font-style="normal" textLength="6.51" lengthAdjust="spacingAndGlyphs" xml:space="preserve">)</text>
<text transform="translate(33.2,731.8) rotate(-90)" x="-1.42" y="0" font-size="24" font-weight="bold" font-style="normal" textLength="116.32" lengthAdjust="spacingAndGlyphs" xml:space="preserve">Remaining</text>
<text transform="translate(33.2,611.3) rotate(-90)" x="-0.87" y="0" font-size="24" font-weight="bold" font-style="normal" textLength="27.87" lengthAdjust="spacingAndGlyphs" xml:space="preserve">Cu</text>
<text transform="translate(33.2,576.6) rotate(-90)" x="-1.17" y="0" font-size="24" font-weight="bold" font-style="normal" textLength="34.91" lengthAdjust="spacingAndGlyphs" xml:space="preserve">(%)</text>
<rect x="246.25" y="867.05" width="13.80" height="13.50" fill="#00B050" stroke="#000" stroke-width="1.9"/>
<text x="266.17" y="881.0" font-size="21.5" font-weight="bold" font-style="normal" textLength="57.84" lengthAdjust="spacingAndGlyphs" xml:space="preserve">Citrus</text>
<text x="329.68" y="881.0" font-size="21.5" font-weight="bold" font-style="normal" textLength="37.57" lengthAdjust="spacingAndGlyphs" xml:space="preserve">leaf</text>
<rect x="385.05" y="867.05" width="13.10" height="13.40" fill="#ED7D31" stroke="#000" stroke-width="1.9"/>
<text x="404.54" y="881.0" font-size="21.5" font-weight="bold" font-style="normal" textLength="78.07" lengthAdjust="spacingAndGlyphs" xml:space="preserve">Tomato</text>
<text x="488.30" y="881.0" font-size="21.5" font-weight="bold" font-style="normal" textLength="37.05" lengthAdjust="spacingAndGlyphs" xml:space="preserve">leaf</text>
</svg>
</body></html>
